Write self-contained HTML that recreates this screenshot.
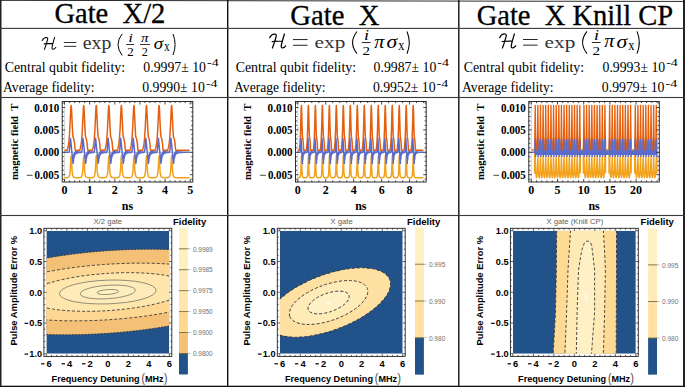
<!DOCTYPE html>
<html><head><meta charset="utf-8"><style>
html,body{margin:0;padding:0;background:#fff;}
body{width:685px;height:387px;overflow:hidden;font-family:"Liberation Sans",sans-serif;}
svg{display:block;}
</style></head><body>
<svg width="685" height="387" viewBox="0 0 685 387">
<line x1="0" y1="0.35" x2="685" y2="1.45" stroke="#2a2a2a" stroke-width="1.0"/>
<rect x="0" y="0" width="1.5" height="387" fill="#222" />
<rect x="683" y="0" width="2" height="387" fill="#222" />
<rect x="0" y="385.7" width="685" height="1.3" fill="#111" />
<rect x="227.0" y="0" width="1.4" height="387" fill="#111" />
<rect x="458.1" y="0" width="1.4" height="387" fill="#111" />
<rect x="0" y="27.849999999999998" width="685" height="1.1" fill="#3a3a3a" />
<rect x="0" y="96.95" width="685" height="1.1" fill="#3a3a3a" />
<rect x="0" y="214.95" width="685" height="1.1" fill="#3a3a3a" />
<text x="54.4" y="23.1" font-family="'Liberation Serif', serif" font-size="28.6" font-weight="normal" font-style="normal" fill="#000" text-anchor="start" textLength="111.0" lengthAdjust="spacingAndGlyphs" stroke="#000" stroke-width="0.3">Gate&#160;&#160;X/2</text>
<text x="290.3" y="25.3" font-family="'Liberation Serif', serif" font-size="28.9" font-weight="normal" font-style="normal" fill="#000" text-anchor="start" textLength="89.2" lengthAdjust="spacingAndGlyphs" stroke="#000" stroke-width="0.3">Gate&#160;&#160;X</text>
<text x="476.7" y="24.5" font-family="'Liberation Serif', serif" font-size="28.7" font-weight="normal" font-style="normal" fill="#000" text-anchor="start" textLength="196.4" lengthAdjust="spacingAndGlyphs" stroke="#000" stroke-width="0.3">Gate&#160;&#160;X Knill CP</text>
<text x="4.7" y="71.6" font-family="'Liberation Serif', serif" font-size="13.9" font-weight="normal" font-style="normal" fill="#000" text-anchor="start" textLength="120.4" lengthAdjust="spacingAndGlyphs" >Central qubit fidelity:</text>
<text x="3.0" y="91.9" font-family="'Liberation Serif', serif" font-size="13.9" font-weight="normal" font-style="normal" fill="#000" text-anchor="start" textLength="91.6" lengthAdjust="spacingAndGlyphs" >Average fidelity:</text>
<text x="235.7" y="71.6" font-family="'Liberation Serif', serif" font-size="13.9" font-weight="normal" font-style="normal" fill="#000" text-anchor="start" textLength="120.4" lengthAdjust="spacingAndGlyphs" >Central qubit fidelity:</text>
<text x="234.0" y="91.9" font-family="'Liberation Serif', serif" font-size="13.9" font-weight="normal" font-style="normal" fill="#000" text-anchor="start" textLength="91.6" lengthAdjust="spacingAndGlyphs" >Average fidelity:</text>
<text x="463.7" y="71.6" font-family="'Liberation Serif', serif" font-size="13.9" font-weight="normal" font-style="normal" fill="#000" text-anchor="start" textLength="120.4" lengthAdjust="spacingAndGlyphs" >Central qubit fidelity:</text>
<text x="462.0" y="91.9" font-family="'Liberation Serif', serif" font-size="13.9" font-weight="normal" font-style="normal" fill="#000" text-anchor="start" textLength="91.6" lengthAdjust="spacingAndGlyphs" >Average fidelity:</text>
<text x="143.3" y="71.6" font-family="'Liberation Serif', serif" font-size="13.9" font-weight="normal" font-style="normal" fill="#000" text-anchor="start" textLength="62.7" lengthAdjust="spacingAndGlyphs" >0.9997&#177; 10</text>
<text x="207.0" y="66.3" font-family="'Liberation Serif', serif" font-size="10.5" font-weight="normal" font-style="normal" fill="#000" text-anchor="start" textLength="11.6" lengthAdjust="spacingAndGlyphs" >-4</text>
<text x="142.2" y="91.9" font-family="'Liberation Serif', serif" font-size="13.9" font-weight="normal" font-style="normal" fill="#000" text-anchor="start" textLength="62.7" lengthAdjust="spacingAndGlyphs" >0.9990&#177; 10</text>
<text x="205.89999999999998" y="86.60000000000001" font-family="'Liberation Serif', serif" font-size="10.5" font-weight="normal" font-style="normal" fill="#000" text-anchor="start" textLength="11.6" lengthAdjust="spacingAndGlyphs" >-4</text>
<text x="373.6" y="71.6" font-family="'Liberation Serif', serif" font-size="13.9" font-weight="normal" font-style="normal" fill="#000" text-anchor="start" textLength="62.7" lengthAdjust="spacingAndGlyphs" >0.9987&#177; 10</text>
<text x="437.3" y="66.3" font-family="'Liberation Serif', serif" font-size="10.5" font-weight="normal" font-style="normal" fill="#000" text-anchor="start" textLength="11.6" lengthAdjust="spacingAndGlyphs" >-4</text>
<text x="372.9" y="91.9" font-family="'Liberation Serif', serif" font-size="13.9" font-weight="normal" font-style="normal" fill="#000" text-anchor="start" textLength="62.7" lengthAdjust="spacingAndGlyphs" >0.9952&#177; 10</text>
<text x="436.59999999999997" y="86.60000000000001" font-family="'Liberation Serif', serif" font-size="10.5" font-weight="normal" font-style="normal" fill="#000" text-anchor="start" textLength="11.6" lengthAdjust="spacingAndGlyphs" >-4</text>
<text x="602.5" y="71.6" font-family="'Liberation Serif', serif" font-size="13.9" font-weight="normal" font-style="normal" fill="#000" text-anchor="start" textLength="62.7" lengthAdjust="spacingAndGlyphs" >0.9993&#177; 10</text>
<text x="666.2" y="66.3" font-family="'Liberation Serif', serif" font-size="10.5" font-weight="normal" font-style="normal" fill="#000" text-anchor="start" textLength="11.6" lengthAdjust="spacingAndGlyphs" >-4</text>
<text x="601.8" y="91.9" font-family="'Liberation Serif', serif" font-size="13.9" font-weight="normal" font-style="normal" fill="#000" text-anchor="start" textLength="62.7" lengthAdjust="spacingAndGlyphs" >0.9979&#177; 10</text>
<text x="665.5" y="86.60000000000001" font-family="'Liberation Serif', serif" font-size="10.5" font-weight="normal" font-style="normal" fill="#000" text-anchor="start" textLength="11.6" lengthAdjust="spacingAndGlyphs" >-4</text>
<path d="M42.16,40.63 C43.09,38.59 45.13,37.23 46.83,37.48 C47.85,37.66 47.85,38.76 47.51,39.95 C46.66,43.18 45.64,46.41 44.45,49.30 M44.28,43.86 L52.61,43.35 M54.65,37.40 C53.63,40.80 52.61,44.20 52.02,47.09 C51.76,48.62 52.27,49.47 53.29,49.21 C54.31,48.96 55.16,48.28 55.75,47.52" fill="none" stroke="#000" stroke-width="1.06" stroke-linecap="round"/>
<rect x="63.9" y="42.0" width="12.4" height="0.8" fill="#000" />
<rect x="63.9" y="45.9" width="12.4" height="0.8" fill="#000" />
<text x="82.80" y="48.94" font-family="'Liberation Serif', serif" font-size="17.96" font-weight="normal" font-style="normal" fill="#333" textLength="28.48" lengthAdjust="spacingAndGlyphs" >exp</text>
<path d="M122.20,33.80 Q113.80,44.65 122.20,55.50" fill="none" stroke="#000" stroke-width="1.0"/>
<text x="128.30" y="41.60" font-family="'Liberation Serif', serif" font-size="13.18" font-weight="normal" font-style="italic" fill="#000" textLength="4.66" lengthAdjust="spacingAndGlyphs" >i</text>
<rect x="126.1" y="44.1" width="7.9" height="0.8" fill="#000" />
<text x="127.20" y="55.90" font-family="'Liberation Serif', serif" font-size="11.82" font-weight="normal" font-style="normal" fill="#000" textLength="6.50" lengthAdjust="spacingAndGlyphs" >2</text>
<text x="140.90" y="41.77" font-family="'Liberation Serif', serif" font-size="12.98" font-weight="normal" font-style="italic" fill="#000" textLength="7.54" lengthAdjust="spacingAndGlyphs" >π</text>
<rect x="140.0" y="44.1" width="9.9" height="0.8" fill="#000" />
<text x="141.80" y="55.70" font-family="'Liberation Serif', serif" font-size="11.52" font-weight="normal" font-style="normal" fill="#000" textLength="6.10" lengthAdjust="spacingAndGlyphs" >2</text>
<text x="153.70" y="49.34" font-family="'Liberation Serif', serif" font-size="16.38" font-weight="normal" font-style="italic" fill="#000" textLength="9.39" lengthAdjust="spacingAndGlyphs" >σ</text>
<text x="164.20" y="51.30" font-family="'Liberation Serif', serif" font-size="14.13" font-weight="normal" font-style="normal" fill="#000" textLength="5.30" lengthAdjust="spacingAndGlyphs" >x</text>
<path d="M173.00,34.00 Q177.20,44.50 173.00,55.00" fill="none" stroke="#000" stroke-width="1.0"/>
<path d="M269.70,37.80 C270.80,35.40 273.20,33.80 275.20,34.10 C276.40,34.30 276.40,35.60 276.00,37.00 C275.00,40.80 273.80,44.60 272.40,48.00 M272.20,41.60 L282.00,41.00 M284.40,34.00 C283.20,38.00 282.00,42.00 281.30,45.40 C281.00,47.20 281.60,48.20 282.80,47.90 C284.00,47.60 285.00,46.80 285.70,45.90" fill="none" stroke="#000" stroke-width="1.25" stroke-linecap="round"/>
<rect x="293.0" y="39.2" width="14.6" height="0.85" fill="#000" />
<rect x="293.0" y="44.8" width="14.6" height="0.85" fill="#000" />
<text x="314.60" y="47.93" font-family="'Liberation Serif', serif" font-size="17.08" font-weight="normal" font-style="normal" fill="#333" textLength="30.68" lengthAdjust="spacingAndGlyphs" >exp</text>
<path d="M357.00,31.50 Q348.20,42.60 357.00,53.70" fill="none" stroke="#000" stroke-width="1.05"/>
<text x="364.00" y="39.70" font-family="'Liberation Serif', serif" font-size="15.00" font-weight="normal" font-style="italic" fill="#000" textLength="5.06" lengthAdjust="spacingAndGlyphs" >i</text>
<rect x="361.8" y="42.2" width="8.8" height="0.85" fill="#000" />
<text x="362.60" y="54.60" font-family="'Liberation Serif', serif" font-size="13.18" font-weight="normal" font-style="normal" fill="#000" textLength="7.60" lengthAdjust="spacingAndGlyphs" >2</text>
<text x="374.20" y="47.51" font-family="'Liberation Serif', serif" font-size="19.36" font-weight="normal" font-style="italic" fill="#000" textLength="10.12" lengthAdjust="spacingAndGlyphs" >π</text>
<text x="386.60" y="47.92" font-family="'Liberation Serif', serif" font-size="18.10" font-weight="normal" font-style="italic" fill="#000" textLength="10.71" lengthAdjust="spacingAndGlyphs" >σ</text>
<text x="398.30" y="49.90" font-family="'Liberation Serif', serif" font-size="15.00" font-weight="normal" font-style="normal" fill="#000" textLength="6.20" lengthAdjust="spacingAndGlyphs" >x</text>
<path d="M407.00,31.50 Q411.60,42.60 407.00,53.70" fill="none" stroke="#000" stroke-width="1.05"/>
<path d="M499.70,37.70 C500.80,35.30 503.20,33.70 505.20,34.00 C506.40,34.20 506.40,35.50 506.00,36.90 C505.00,40.70 503.80,44.50 502.40,47.90 M502.20,41.50 L512.00,40.90 M514.40,33.90 C513.20,37.90 512.00,41.90 511.30,45.30 C511.00,47.10 511.60,48.10 512.80,47.80 C514.00,47.50 515.00,46.70 515.70,45.80" fill="none" stroke="#000" stroke-width="1.25" stroke-linecap="round"/>
<rect x="523.0" y="39.1" width="14.6" height="0.85" fill="#000" />
<rect x="523.0" y="44.699999999999996" width="14.6" height="0.85" fill="#000" />
<text x="544.60" y="47.83" font-family="'Liberation Serif', serif" font-size="17.08" font-weight="normal" font-style="normal" fill="#333" textLength="30.68" lengthAdjust="spacingAndGlyphs" >exp</text>
<path d="M587.00,31.40 Q578.20,42.50 587.00,53.60" fill="none" stroke="#000" stroke-width="1.05"/>
<text x="594.00" y="39.60" font-family="'Liberation Serif', serif" font-size="15.00" font-weight="normal" font-style="italic" fill="#000" textLength="5.06" lengthAdjust="spacingAndGlyphs" >i</text>
<rect x="591.8" y="42.1" width="8.8" height="0.85" fill="#000" />
<text x="592.60" y="54.50" font-family="'Liberation Serif', serif" font-size="13.18" font-weight="normal" font-style="normal" fill="#000" textLength="7.60" lengthAdjust="spacingAndGlyphs" >2</text>
<text x="604.20" y="47.41" font-family="'Liberation Serif', serif" font-size="19.36" font-weight="normal" font-style="italic" fill="#000" textLength="10.12" lengthAdjust="spacingAndGlyphs" >π</text>
<text x="616.60" y="47.82" font-family="'Liberation Serif', serif" font-size="18.10" font-weight="normal" font-style="italic" fill="#000" textLength="10.71" lengthAdjust="spacingAndGlyphs" >σ</text>
<text x="628.30" y="49.80" font-family="'Liberation Serif', serif" font-size="15.00" font-weight="normal" font-style="normal" fill="#000" textLength="6.20" lengthAdjust="spacingAndGlyphs" >x</text>
<path d="M637.00,31.40 Q641.60,42.50 637.00,53.60" fill="none" stroke="#000" stroke-width="1.05"/>
<clipPath id="bc1"><rect x="62.2" y="101.5" width="130.60000000000002" height="80.5"/></clipPath>
<line x1="62.2" y1="152.3" x2="192.8" y2="152.3" stroke="#b0b0b0" stroke-width="0.8"/>
<line x1="64.55" y1="101.5" x2="64.55" y2="182.0" stroke="#c8c8c8" stroke-width="0.8"/>
<g clip-path="url(#bc1)" fill="none" stroke-width="1.5" stroke-linejoin="round">
<path d="M64.55,150.28L67.11,150.28L67.92,147.77L68.55,144.42L69.02,140.55L69.52,134.30L70.73,109.39L70.93,106.52L71.13,105.48L71.33,106.52L71.53,109.39L72.44,129.13L72.95,136.60L73.08,137.26L73.36,137.43L73.55,137.89L74.39,142.30L75.08,149.39L75.15,149.90L75.35,150.25L79.67,150.28L80.30,148.44L80.85,145.98L81.48,141.51L82.02,135.22L82.49,127.14L83.29,109.39L83.49,106.52L83.69,105.48L83.88,106.38L84.08,109.23L84.90,127.14L85.35,134.93L85.58,137.00L85.71,137.37L85.99,137.53L86.13,137.95L86.95,142.30L87.71,149.88L87.84,150.20L88.05,150.28L92.23,150.28L92.86,148.44L93.41,145.98L93.84,143.20L94.24,139.50L94.93,129.50L95.89,108.73L96.09,106.12L96.25,105.48L96.44,106.38L96.64,109.23L97.46,127.14L97.95,135.43L98.20,137.26L98.55,137.53L98.69,137.95L99.55,142.55L100.27,149.88L100.40,150.20L100.61,150.28L104.79,150.28L105.42,148.44L105.95,146.11L106.40,143.20L106.80,139.50L107.49,129.50L108.45,108.73L108.65,106.12L108.81,105.48L109.00,106.38L109.20,109.23L110.02,127.14L110.55,135.88L110.75,137.22L110.83,137.37L111.11,137.53L111.25,137.95L112.07,142.30L112.83,149.88L112.95,150.19L113.15,150.28L117.35,150.28L117.98,148.44L118.53,145.98L118.96,143.20L119.36,139.50L120.05,129.50L121.01,108.73L121.21,106.12L121.37,105.48L121.55,106.31L121.75,108.98L122.68,129.13L123.15,136.27L123.32,137.26L123.67,137.53L123.81,137.95L124.63,142.30L125.39,149.88L125.52,150.20L125.73,150.28L129.91,150.28L130.55,148.41L131.09,145.98L131.55,142.96L131.95,139.19L132.61,129.50L133.55,109.03L133.75,106.33L133.93,105.48L134.12,106.38L134.33,109.39L135.14,127.14L135.55,134.39L135.82,137.00L135.95,137.37L136.23,137.53L136.35,137.89L137.26,142.74L137.95,149.90L138.08,150.20L138.29,150.28L142.47,150.28L143.10,148.44L143.65,145.98L144.08,143.20L144.48,139.50L145.15,129.79L146.13,108.73L146.33,106.12L146.49,105.48L146.68,106.38L146.88,109.23L147.70,127.14L148.15,134.93L148.38,137.00L148.51,137.37L148.79,137.53L148.93,137.95L149.75,142.30L150.51,149.88L150.64,150.20L150.85,150.28L155.03,150.28L155.66,148.44L156.21,145.98L156.64,143.20L157.04,139.50L157.73,129.50L158.69,108.73L158.89,106.12L159.05,105.48L159.24,106.38L159.44,109.23L160.26,127.14L160.75,135.43L161.00,137.26L161.35,137.53L161.49,137.95L162.35,142.55L163.07,149.88L163.20,150.20L163.41,150.28L167.59,150.28L168.22,148.44L168.75,146.11L169.20,143.20L169.60,139.50L170.29,129.50L171.25,108.73L171.45,106.12L171.61,105.48L171.80,106.38L172.00,109.23L172.82,127.14L173.35,135.88L173.55,137.22L173.63,137.37L173.91,137.53L174.05,137.95L174.87,142.30L175.49,148.76L175.70,150.09L175.83,150.25L176.04,150.28L189.55,150.28" stroke="#e4600f"/>
<path d="M64.55,177.84L66.75,177.72L68.02,177.42L68.42,177.20L68.82,176.83L69.15,176.32L69.42,175.64L69.83,173.84L70.15,171.05L70.93,157.42L71.13,155.88L71.35,157.68L72.04,170.12L72.54,174.42L72.95,175.96L73.36,176.73L74.05,177.33L75.01,177.64L77.42,177.84L79.07,177.74L80.10,177.58L80.72,177.36L81.20,177.03L81.58,176.55L81.88,175.93L82.35,174.05L82.69,171.31L83.47,157.80L83.69,155.88L83.95,158.28L84.55,169.50L85.00,173.84L85.35,175.48L85.78,176.52L86.35,177.16L87.23,177.56L88.33,177.75L89.98,177.84L92.45,177.63L93.14,177.42L93.64,177.13L94.04,176.70L94.38,176.10L94.86,174.35L95.25,171.31L96.03,157.80L96.25,155.88L96.45,157.42L97.15,170.04L97.55,173.79L97.95,175.61L98.27,176.40L98.82,177.10L99.51,177.48L100.61,177.72L102.47,177.83L104.89,177.65L105.63,177.45L106.18,177.14L106.60,176.70L106.94,176.10L107.42,174.35L107.81,171.31L108.59,157.80L108.81,155.88L109.01,157.42L109.62,168.71L110.02,173.14L110.55,175.74L110.97,176.63L111.59,177.25L112.41,177.58L113.65,177.76L115.10,177.84L117.15,177.70L117.98,177.52L118.60,177.24L119.08,176.81L119.46,176.17L119.96,174.42L120.35,171.49L120.66,167.14L121.15,157.73L121.37,155.88L121.57,157.42L122.38,171.31L122.78,174.42L123.32,176.27L123.74,176.90L124.29,177.33L124.97,177.58L126.01,177.75L127.66,177.84L129.65,177.71L130.72,177.46L131.44,177.03L131.92,176.39L132.26,175.52L132.55,174.28L132.81,172.44L133.16,168.28L133.73,157.42L133.93,155.88L134.15,157.68L134.63,167.07L134.95,171.46L135.34,174.42L135.82,176.12L136.16,176.73L136.64,177.20L137.19,177.48L137.95,177.67L139.53,177.81L140.97,177.81L142.48,177.66L143.45,177.39L144.08,176.95L144.58,176.17L144.95,175.05L145.23,173.52L145.65,169.31L146.27,157.80L146.49,155.88L146.69,157.42L147.50,171.31L147.90,174.42L148.35,176.06L148.65,176.63L149.06,177.10L149.61,177.43L150.30,177.63L152.78,177.84L154.53,177.73L155.64,177.53L156.42,177.14L156.97,176.51L157.38,175.52L157.75,173.81L158.21,169.31L158.83,157.80L159.05,155.88L159.25,157.42L160.06,171.31L160.46,174.42L160.94,176.12L161.28,176.73L161.62,177.10L162.15,177.42L162.79,177.61L165.34,177.84L167.89,177.61L168.84,177.24L169.46,176.62L169.94,175.52L170.29,173.96L170.75,169.54L171.39,157.80L171.61,155.88L171.81,157.42L172.35,167.67L172.72,172.31L173.15,175.04L173.50,176.12L173.91,176.82L174.35,177.22L174.94,177.50L176.75,177.79L189.55,177.84" stroke="#f2a11b"/>
<path d="M64.55,152.30L68.55,152.28L68.92,152.13L69.12,151.82L69.35,150.97L69.55,149.50L70.23,140.16L70.43,138.55L70.53,138.66L73.02,163.50L73.15,158.91L73.43,161.97L73.70,155.04L73.98,158.19L74.25,153.13L74.53,156.02L74.80,152.23L75.08,154.75L75.35,151.85L75.63,153.98L75.90,151.73L76.18,153.50L76.45,151.73L76.73,153.18L77.00,151.78L77.28,152.96L77.55,151.85L77.83,152.81L78.10,151.92L78.38,152.70L78.65,151.99L78.93,152.61L79.20,152.04L79.48,152.55L79.75,152.09L80.03,152.50L80.30,152.13L80.58,152.46L80.85,152.16L81.15,152.40L81.38,152.10L81.58,152.06L81.68,151.92L82.16,149.07L82.79,140.22L83.05,138.36L85.58,163.52L85.71,158.90L85.99,161.98L86.26,155.03L86.54,158.19L86.81,153.12L87.09,156.03L87.36,152.22L87.64,154.76L87.91,151.84L88.19,153.99L88.46,151.72L88.74,153.50L89.01,151.72L89.29,153.18L89.56,151.78L89.84,152.96L90.11,151.85L90.39,152.81L90.66,151.92L90.94,152.70L91.21,151.98L91.49,152.61L91.75,152.04L92.04,152.55L92.31,152.09L92.55,152.48L92.86,152.13L93.14,152.46L93.41,152.16L93.69,152.41L93.94,152.10L94.15,152.05L94.24,151.92L94.72,149.07L95.35,140.22L95.61,138.36L98.14,163.52L98.27,158.90L98.55,161.96L98.82,155.03L99.10,158.19L99.35,153.24L99.37,153.12L99.44,153.50L99.65,156.03L99.92,152.22L100.20,154.76L100.47,151.84L100.75,153.99L101.02,151.72L101.30,153.50L101.57,151.72L101.85,153.18L102.12,151.78L102.40,152.96L102.67,151.85L102.95,152.81L103.22,151.92L103.50,152.70L103.77,151.98L104.05,152.61L104.32,152.04L104.60,152.55L104.87,152.09L105.15,152.50L105.42,152.13L105.70,152.46L105.97,152.16L106.25,152.41L106.50,152.10L106.70,152.06L106.80,151.92L107.28,149.07L107.91,140.22L108.17,138.36L110.70,163.52L110.83,158.90L111.11,161.98L111.38,155.03L111.66,158.19L111.93,153.12L112.21,156.03L112.48,152.22L112.75,154.76L113.03,151.84L113.31,153.99L113.58,151.72L113.86,153.50L114.13,151.72L114.41,153.18L114.68,151.78L114.95,152.96L115.23,151.85L115.51,152.81L115.78,151.92L116.06,152.70L116.33,151.98L116.61,152.61L116.88,152.04L117.16,152.55L117.43,152.09L117.71,152.50L117.98,152.13L118.26,152.46L118.53,152.16L118.81,152.41L119.06,152.10L119.26,152.06L119.36,151.92L119.84,149.07L120.47,140.22L120.73,138.36L123.26,163.52L123.39,158.90L123.67,161.98L123.94,155.03L124.22,158.19L124.49,153.12L124.77,156.03L125.04,152.22L125.32,154.76L125.59,151.84L125.87,153.99L126.14,151.72L126.42,153.50L126.69,151.72L126.97,153.18L127.24,151.78L127.52,152.96L127.79,151.85L128.07,152.81L128.34,151.92L128.62,152.70L128.89,151.98L129.17,152.61L129.44,152.04L129.72,152.55L129.99,152.09L130.27,152.50L130.54,152.13L130.82,152.46L131.09,152.16L131.37,152.41L131.62,152.10L131.82,152.06L131.92,151.92L132.40,149.07L133.03,140.22L133.29,138.36L135.82,163.52L135.95,158.90L136.23,161.98L136.50,155.03L136.78,158.19L137.05,153.12L137.33,156.03L137.60,152.22L137.88,154.76L138.15,151.84L138.43,153.99L138.70,151.72L138.98,153.50L139.25,151.72L139.53,153.18L139.80,151.78L140.08,152.96L140.35,151.85L140.63,152.81L140.90,151.92L141.18,152.70L141.45,151.98L141.73,152.61L142.00,152.04L142.28,152.55L142.55,152.09L142.83,152.50L143.10,152.13L143.38,152.46L143.65,152.16L143.95,152.40L144.18,152.10L144.38,152.06L144.48,151.92L144.96,149.07L145.59,140.22L145.85,138.36L148.38,163.52L148.51,158.90L148.79,161.98L149.06,155.03L149.34,158.19L149.61,153.12L149.89,156.03L150.16,152.22L150.44,154.76L150.71,151.84L150.99,153.99L151.26,151.72L151.54,153.50L151.81,151.72L152.09,153.18L152.36,151.78L152.64,152.96L152.91,151.85L153.19,152.81L153.46,151.92L153.74,152.70L154.01,151.98L154.29,152.61L154.55,152.04L154.84,152.55L155.11,152.09L155.35,152.48L155.66,152.13L155.94,152.46L156.21,152.16L156.49,152.41L156.74,152.10L156.95,152.05L157.04,151.92L157.52,149.07L158.15,140.22L158.41,138.36L160.94,163.52L161.07,158.90L161.35,161.96L161.62,155.03L161.90,158.19L162.15,153.24L162.17,153.12L162.24,153.50L162.45,156.03L162.72,152.22L163.00,154.76L163.27,151.84L163.55,153.99L163.82,151.72L164.10,153.50L164.37,151.72L164.65,153.18L164.92,151.78L165.20,152.96L165.47,151.85L165.75,152.81L166.02,151.92L166.30,152.70L166.57,151.98L166.85,152.61L167.12,152.04L167.40,152.55L167.67,152.09L167.95,152.50L168.22,152.13L168.50,152.46L168.77,152.16L169.05,152.41L169.30,152.10L169.50,152.06L169.60,151.92L170.08,149.07L170.71,140.22L170.97,138.36L173.50,163.52L173.63,158.90L173.91,161.98L174.18,155.03L174.46,158.19L174.73,153.12L175.01,156.03L175.28,152.22L175.55,154.76L175.83,151.84L176.11,153.99L176.38,151.72L176.66,153.50L176.93,151.72L177.21,153.18L177.48,151.78L177.75,152.96L178.03,151.85L178.31,152.81L178.58,151.92L178.86,152.70L179.13,151.98L179.41,152.61L179.68,152.04L179.96,152.55L180.23,152.09L180.51,152.50L180.78,152.13L181.06,152.46L181.33,152.16L181.61,152.43L181.88,152.19L182.16,152.40L182.43,152.21L182.71,152.38L182.98,152.23L183.26,152.36L183.53,152.24L183.81,152.35L184.08,152.25L184.36,152.34L184.63,152.26L184.95,152.33L189.55,152.30" stroke="#5b6bca"/>
</g>
<rect x="62.2" y="101.5" width="130.60000000000002" height="80.5" fill="none" stroke="#1a1a1a" stroke-width="0.9"/>
<path d="M64.55,182.0v-3.0M64.55,101.5v3.0M69.57,182.0v-1.6M69.57,101.5v1.6M74.60,182.0v-1.6M74.60,101.5v1.6M79.62,182.0v-1.6M79.62,101.5v1.6M84.65,182.0v-1.6M84.65,101.5v1.6M89.67,182.0v-3.0M89.67,101.5v3.0M94.69,182.0v-1.6M94.69,101.5v1.6M99.72,182.0v-1.6M99.72,101.5v1.6M104.74,182.0v-1.6M104.74,101.5v1.6M109.77,182.0v-1.6M109.77,101.5v1.6M114.79,182.0v-3.0M114.79,101.5v3.0M119.81,182.0v-1.6M119.81,101.5v1.6M124.84,182.0v-1.6M124.84,101.5v1.6M129.86,182.0v-1.6M129.86,101.5v1.6M134.89,182.0v-1.6M134.89,101.5v1.6M139.91,182.0v-3.0M139.91,101.5v3.0M144.93,182.0v-1.6M144.93,101.5v1.6M149.96,182.0v-1.6M149.96,101.5v1.6M154.98,182.0v-1.6M154.98,101.5v1.6M160.01,182.0v-1.6M160.01,101.5v1.6M165.03,182.0v-3.0M165.03,101.5v3.0M170.05,182.0v-1.6M170.05,101.5v1.6M175.08,182.0v-1.6M175.08,101.5v1.6M180.10,182.0v-1.6M180.10,101.5v1.6M185.13,182.0v-1.6M185.13,101.5v1.6M190.15,182.0v-3.0M190.15,101.5v3.0M62.2,179.18h1.6M192.8,179.18h-1.6M62.2,174.70h3.0M192.8,174.70h-3.0M62.2,170.22h1.6M192.8,170.22h-1.6M62.2,165.74h1.6M192.8,165.74h-1.6M62.2,161.26h1.6M192.8,161.26h-1.6M62.2,156.78h1.6M192.8,156.78h-1.6M62.2,152.30h3.0M192.8,152.30h-3.0M62.2,147.82h1.6M192.8,147.82h-1.6M62.2,143.34h1.6M192.8,143.34h-1.6M62.2,138.86h1.6M192.8,138.86h-1.6M62.2,134.38h1.6M192.8,134.38h-1.6M62.2,129.90h3.0M192.8,129.90h-3.0M62.2,125.42h1.6M192.8,125.42h-1.6M62.2,120.94h1.6M192.8,120.94h-1.6M62.2,116.46h1.6M192.8,116.46h-1.6M62.2,111.98h1.6M192.8,111.98h-1.6M62.2,107.50h3.0M192.8,107.50h-3.0M62.2,103.02h1.6M192.8,103.02h-1.6" stroke="#1a1a1a" stroke-width="0.8" fill="none"/>
<text x="59.20" y="111.60" font-family="'Liberation Serif', serif" font-size="12" font-weight="bold" font-style="normal" fill="#000" text-anchor="end" textLength="24.9" lengthAdjust="spacingAndGlyphs" >0.010</text>
<text x="59.20" y="134.00" font-family="'Liberation Serif', serif" font-size="12" font-weight="bold" font-style="normal" fill="#000" text-anchor="end" textLength="24.9" lengthAdjust="spacingAndGlyphs" >0.005</text>
<text x="59.20" y="156.40" font-family="'Liberation Serif', serif" font-size="12" font-weight="bold" font-style="normal" fill="#000" text-anchor="end" textLength="24.9" lengthAdjust="spacingAndGlyphs" >0.000</text>
<text x="59.20" y="178.80" font-family="'Liberation Serif', serif" font-size="12" font-weight="bold" font-style="normal" fill="#000" text-anchor="end" textLength="24.6" lengthAdjust="spacingAndGlyphs" >0.005</text>
<rect x="26.80" y="174.80" width="5.8" height="0.9" fill="#333"/>
<text x="64.55" y="193.60" font-family="'Liberation Serif', serif" font-size="12" font-weight="bold" font-style="normal" fill="#000" text-anchor="middle" >0</text>
<text x="89.67" y="193.60" font-family="'Liberation Serif', serif" font-size="12" font-weight="bold" font-style="normal" fill="#000" text-anchor="middle" >1</text>
<text x="114.79" y="193.60" font-family="'Liberation Serif', serif" font-size="12" font-weight="bold" font-style="normal" fill="#000" text-anchor="middle" >2</text>
<text x="139.91" y="193.60" font-family="'Liberation Serif', serif" font-size="12" font-weight="bold" font-style="normal" fill="#000" text-anchor="middle" >3</text>
<text x="165.03" y="193.60" font-family="'Liberation Serif', serif" font-size="12" font-weight="bold" font-style="normal" fill="#000" text-anchor="middle" >4</text>
<text x="190.15" y="193.60" font-family="'Liberation Serif', serif" font-size="12" font-weight="bold" font-style="normal" fill="#000" text-anchor="middle" >5</text>
<text x="127.50" y="209.80" font-family="'Liberation Serif', serif" font-size="12" font-weight="bold" font-style="normal" fill="#000" text-anchor="middle" >ns</text>
<text x="17.50" y="180.00" font-family="'Liberation Serif', serif" font-size="10.6" font-weight="bold" font-style="normal" fill="#000" text-anchor="start" textLength="76.4" lengthAdjust="spacingAndGlyphs" transform="rotate(-90 17.50 180.00)">magnetic field&#160;&#160;T</text>
<clipPath id="bc2"><rect x="295.5" y="101.5" width="130.7" height="80.5"/></clipPath>
<line x1="295.5" y1="152.3" x2="426.2" y2="152.3" stroke="#b0b0b0" stroke-width="0.8"/>
<line x1="297.8" y1="101.5" x2="297.8" y2="182.0" stroke="#c8c8c8" stroke-width="0.8"/>
<g clip-path="url(#bc2)" fill="none" stroke-width="1.5" stroke-linejoin="round">
<path d="M297.80,150.28L299.17,150.28L299.62,147.77L300.00,144.05L300.51,134.30L301.18,109.39L301.41,105.48L301.63,109.39L302.13,129.13L302.40,136.35L302.52,137.36L302.66,137.46L302.73,137.74L303.20,142.11L303.62,149.68L303.69,150.14L303.80,150.28L306.16,150.28L306.51,148.42L306.80,146.12L307.16,141.51L307.44,135.77L308.17,109.39L308.39,105.48L308.60,108.87L309.12,129.13L309.40,136.53L309.51,137.36L309.65,137.46L309.72,137.74L310.20,142.24L310.61,149.68L310.68,150.14L310.80,150.28L313.14,150.28L313.50,148.42L313.80,146.00L314.26,139.50L314.65,129.13L315.16,109.39L315.38,105.48L315.60,109.26L316.11,129.13L316.40,136.70L316.50,137.36L316.63,137.46L316.70,137.74L317.20,142.37L317.60,149.71L317.67,150.14L317.80,150.28L320.13,150.28L320.47,148.54L320.76,146.26L321.25,139.50L321.64,129.13L322.14,109.39L322.37,105.48L322.59,109.39L323.09,129.13L323.40,136.84L323.48,137.36L323.62,137.46L323.69,137.74L324.20,142.51L324.60,149.86L324.65,150.14L324.79,150.28L327.12,150.28L327.45,148.54L327.75,146.26L328.24,139.50L328.60,130.10L329.13,109.39L329.36,105.48L329.58,109.39L330.08,129.13L330.40,136.97L330.47,137.36L330.60,137.44L330.68,137.74L331.16,142.21L331.60,149.96L331.78,150.28L334.11,150.28L334.44,148.54L334.73,146.26L335.23,139.50L335.60,129.68L336.12,109.39L336.34,105.48L336.57,109.39L337.20,133.22L337.39,137.00L337.67,137.74L338.20,142.81L338.56,149.68L338.63,150.14L338.77,150.28L341.09,150.28L341.43,148.54L341.72,146.26L342.21,139.50L342.60,129.26L343.11,109.39L343.33,105.48L343.55,109.39L344.20,133.57L344.38,137.00L344.65,137.74L345.20,142.97L345.55,149.68L345.62,150.14L345.75,150.28L348.08,150.28L348.42,148.54L348.71,146.26L349.20,139.50L349.59,129.13L350.09,109.39L350.32,105.48L350.54,109.39L351.20,133.91L351.37,137.00L351.64,137.74L352.19,143.02L352.53,149.68L352.60,150.14L352.74,150.28L355.07,150.28L355.42,148.42L355.74,145.84L356.20,139.25L356.58,129.13L357.08,109.39L357.31,105.48L357.53,109.39L358.20,134.24L358.35,137.00L358.63,137.74L359.11,142.21L359.52,149.68L359.59,150.14L359.73,150.28L362.06,150.28L362.41,148.42L362.73,145.84L363.20,139.00L363.57,129.13L364.07,109.39L364.29,105.48L364.52,109.39L365.20,134.55L365.34,137.00L365.62,137.74L366.10,142.21L366.51,149.68L366.58,150.14L366.72,150.28L369.04,150.28L369.38,148.54L369.67,146.26L370.16,139.50L370.55,129.13L371.06,109.39L371.28,105.48L371.50,109.39L372.20,134.85L372.33,137.00L372.60,137.74L373.08,142.21L373.50,149.68L373.57,150.14L373.70,150.28L376.03,150.28L376.37,148.54L376.66,146.26L377.15,139.50L377.54,129.13L378.04,109.39L378.27,105.48L378.49,109.39L379.20,135.14L379.32,137.00L379.60,137.79L380.07,142.21L380.48,149.68L380.55,150.14L380.69,150.28L383.02,150.28L383.35,148.54L383.65,146.26L384.14,139.50L384.53,129.13L385.03,109.39L385.26,105.48L385.48,109.39L386.20,135.42L386.30,137.00L386.60,137.88L387.06,142.21L387.47,149.68L387.54,150.14L387.68,150.28L390.01,150.28L390.34,148.54L390.63,146.26L391.13,139.50L391.52,129.13L392.02,109.39L392.24,105.48L392.47,109.39L393.20,135.68L393.29,137.00L393.60,137.97L394.05,142.21L394.46,149.68L394.53,150.14L394.67,150.28L396.99,150.28L397.33,148.54L397.62,146.26L398.11,139.50L398.50,129.13L399.01,109.39L399.23,105.48L399.45,109.39L400.20,135.92L400.28,137.00L400.35,137.36L400.48,137.46L400.60,138.07L401.03,142.21L401.45,149.68L401.52,150.14L401.65,150.28L403.98,150.28L404.32,148.54L404.61,146.26L405.10,139.50L405.49,129.13L406.00,109.22L406.22,105.48L406.44,109.39L407.20,136.14L407.33,137.36L407.47,137.46L407.54,137.74L408.02,142.21L408.43,149.68L408.60,150.27L410.97,150.28L411.30,148.54L411.60,146.24L412.09,139.50L412.48,129.13L413.00,108.83L413.21,105.48L413.43,109.39L413.93,129.13L414.20,136.35L414.32,137.36L414.46,137.46L414.53,137.74L415.01,142.21L415.49,150.14L415.70,150.28L423.40,150.28" stroke="#e4600f"/>
<path d="M297.80,177.84L299.06,177.70L299.78,177.33L300.20,176.64L300.51,175.31L300.73,173.14L300.90,170.12L301.41,155.88L301.91,170.12L302.20,174.53L302.40,175.87L302.73,176.91L303.20,177.47L303.97,177.74L305.27,177.81L306.00,177.71L306.49,177.53L306.80,177.30L307.05,176.95L307.40,175.85L307.67,173.84L307.83,171.31L308.39,155.88L308.90,170.12L309.20,174.64L309.44,176.12L309.72,176.91L310.13,177.42L310.82,177.71L311.98,177.83L312.87,177.73L313.43,177.56L314.00,177.02L314.37,175.93L314.60,174.40L314.82,171.31L315.38,155.88L315.88,170.12L316.16,174.42L316.40,175.99L316.70,176.91L317.12,177.42L317.73,177.70L318.90,177.83L319.80,177.74L320.41,177.56L320.75,177.33L321.00,176.99L321.36,175.93L321.60,174.28L321.81,171.31L322.37,155.88L322.87,170.12L323.15,174.42L323.40,176.05L323.62,176.76L324.00,177.34L324.60,177.67L325.89,177.83L326.78,177.74L327.34,177.59L327.68,177.38L327.96,177.04L328.35,175.93L328.60,174.15L328.80,171.24L329.36,155.88L329.86,170.12L330.14,174.42L330.40,176.10L330.61,176.76L330.95,177.30L331.50,177.64L332.88,177.83L333.77,177.74L334.33,177.59L334.67,177.38L334.95,177.04L335.34,175.93L335.60,174.02L335.78,171.31L336.34,155.88L336.85,170.12L337.07,173.84L337.20,175.04L337.53,176.59L337.87,177.23L338.35,177.58L338.97,177.75L339.87,177.83L340.76,177.74L341.31,177.59L341.65,177.38L341.93,177.04L342.32,175.93L342.60,173.88L342.77,171.31L343.33,155.88L343.80,169.30L344.06,173.84L344.45,176.37L344.72,177.03L345.13,177.47L345.75,177.71L346.72,177.83L348.14,177.65L348.53,177.46L348.85,177.15L349.26,176.16L349.54,174.42L349.76,171.31L350.32,155.88L350.99,173.14L351.37,176.12L351.57,176.76L351.85,177.23L352.33,177.58L353.00,177.76L353.84,177.83L354.94,177.70L355.42,177.52L355.77,177.24L356.04,176.79L356.24,176.17L356.52,174.42L356.75,171.31L357.31,155.88L357.86,171.31L358.09,174.42L358.40,176.30L358.63,176.91L358.90,177.30L359.32,177.58L359.93,177.75L360.80,177.84L361.93,177.70L362.50,177.46L362.90,177.04L363.17,176.41L363.34,175.64L363.65,172.79L364.29,155.88L364.85,171.31L365.08,174.42L365.34,176.12L365.55,176.76L365.80,177.20L366.10,177.47L366.51,177.66L367.40,177.81L368.23,177.81L369.05,177.66L369.60,177.38L369.95,176.93L370.22,176.16L370.60,173.27L371.28,155.88L371.84,171.31L372.06,174.42L372.33,176.12L372.74,177.14L373.02,177.42L373.43,177.64L374.80,177.83L375.77,177.73L376.37,177.53L376.81,177.13L377.14,176.41L377.54,173.84L377.80,169.26L378.27,155.88L378.83,171.31L379.05,174.42L379.32,176.12L379.73,177.14L380.35,177.61L381.79,177.83L383.20,177.60L383.72,177.24L384.08,176.55L384.33,175.47L384.53,173.84L384.75,170.12L385.26,155.88L385.81,171.31L386.04,174.42L386.30,176.12L386.72,177.14L387.33,177.61L388.71,177.83L390.06,177.65L390.60,177.35L390.98,176.79L391.25,175.85L391.46,174.42L391.74,170.12L392.24,155.88L392.80,171.31L393.03,174.42L393.29,176.12L393.63,177.03L393.91,177.37L394.25,177.58L394.80,177.74L395.70,177.83L396.93,177.68L397.55,177.38L397.94,176.83L398.22,175.93L398.45,174.42L398.73,170.12L399.23,155.88L399.79,171.31L399.96,173.84L400.20,175.75L400.55,176.91L400.80,177.27L401.10,177.52L401.65,177.71L402.48,177.82L403.81,177.71L404.47,177.43L404.88,176.93L405.20,175.99L405.43,174.42L405.71,170.12L406.22,155.88L406.78,171.31L406.94,173.84L407.20,175.81L407.54,176.91L407.80,177.29L408.09,177.52L408.60,177.71L409.33,177.81L410.70,177.73L411.42,177.46L411.86,176.95L412.15,176.16L412.40,174.63L412.70,170.12L413.21,155.88L413.82,172.31L414.00,174.53L414.20,175.87L414.46,176.76L414.67,177.14L415.01,177.47L415.42,177.66L416.04,177.78L423.40,177.84" stroke="#f2a11b"/>
<path d="M297.80,152.30L299.95,152.29L300.18,152.13L300.29,151.82L300.51,149.74L300.90,140.16L301.00,138.66L301.01,138.55L301.07,138.66L302.45,163.50L302.59,157.91L302.66,157.73L302.80,159.58L302.87,159.45L303.14,153.13L303.40,155.48L303.69,151.90L303.97,153.87L304.24,151.72L304.52,153.18L304.79,151.81L305.07,152.84L305.34,151.93L305.62,152.64L305.88,152.04L306.17,152.53L306.40,152.14L306.72,152.45L306.94,152.18L307.16,152.17L307.28,151.92L307.54,148.92L308.02,138.41L309.44,163.52L309.58,157.92L309.65,157.72L309.78,159.57L309.85,159.45L310.13,153.13L310.40,155.45L310.68,151.90L310.95,153.87L311.23,151.72L311.50,153.18L311.78,151.81L312.05,152.84L312.33,151.93L312.60,152.64L312.87,152.04L313.15,152.53L313.40,152.13L313.70,152.45L313.93,152.18L314.15,152.17L314.26,151.92L314.53,148.92L315.01,138.41L316.43,163.52L316.57,157.92L316.60,157.62L316.63,157.72L316.77,159.57L316.80,159.67L316.84,159.45L317.12,153.13L317.39,155.44L317.67,151.90L317.94,153.87L318.22,151.72L318.49,153.18L318.77,151.81L319.04,152.84L319.32,151.93L319.59,152.64L319.85,152.04L320.14,152.53L320.40,152.12L320.69,152.45L320.91,152.18L321.14,152.17L321.25,151.92L321.52,148.92L322.00,138.40L323.42,163.52L323.55,157.92L323.62,157.72L323.76,159.57L323.80,159.66L323.83,159.45L324.10,153.13L324.38,155.44L324.65,151.90L324.93,153.87L325.20,151.72L325.48,153.18L325.75,151.81L326.03,152.84L326.30,151.93L326.58,152.64L326.84,152.04L327.13,152.53L327.40,152.12L327.68,152.45L327.90,152.18L328.13,152.17L328.24,151.92L328.50,148.92L328.85,140.20L329.00,138.37L330.40,163.52L330.54,157.92L330.60,157.66L330.80,159.60L331.09,153.13L331.37,155.44L331.64,151.90L331.92,153.87L332.19,151.72L332.47,153.18L332.74,151.81L333.02,152.84L333.29,151.93L333.57,152.64L333.83,152.04L334.12,152.53L334.39,152.12L334.67,152.45L334.89,152.18L335.11,152.17L335.23,151.92L335.49,148.92L335.97,138.41L337.39,163.52L337.53,157.92L337.60,157.72L337.73,159.57L337.80,159.49L338.08,153.13L338.35,155.44L338.63,151.90L338.90,153.87L339.18,151.72L339.45,153.18L339.73,151.81L340.00,152.84L340.28,151.93L340.55,152.64L340.82,152.04L341.10,152.53L341.37,152.12L341.65,152.45L341.88,152.18L342.10,152.17L342.21,151.92L342.48,148.92L342.96,138.41L344.38,163.52L344.52,157.92L344.58,157.72L344.72,159.57L344.79,159.45L345.07,153.13L345.34,155.44L345.62,151.90L345.89,153.87L346.17,151.72L346.44,153.18L346.72,151.81L346.99,152.84L347.27,151.93L347.54,152.64L347.80,152.04L348.09,152.53L348.36,152.12L348.64,152.45L348.86,152.18L349.09,152.17L349.20,151.92L349.47,148.92L349.95,138.41L351.37,163.52L351.50,157.92L351.57,157.72L351.71,159.57L351.78,159.45L352.05,153.13L352.33,155.44L352.60,151.90L352.88,153.87L353.15,151.72L353.43,153.18L353.70,151.81L353.98,152.84L354.25,151.93L354.53,152.64L354.79,152.04L355.08,152.53L355.35,152.12L355.63,152.45L355.85,152.18L356.08,152.17L356.19,151.92L356.45,148.92L356.93,138.41L358.35,163.52L358.49,157.92L358.56,157.72L358.70,159.57L358.77,159.45L359.04,153.13L359.32,155.44L359.59,151.90L359.87,153.87L360.14,151.72L360.40,153.18L360.69,151.81L360.97,152.84L361.24,151.93L361.52,152.64L361.78,152.04L362.07,152.53L362.34,152.12L362.62,152.45L362.84,152.18L363.06,152.17L363.18,151.92L363.44,148.92L363.92,138.41L365.34,163.52L365.48,157.92L365.55,157.72L365.68,159.57L365.75,159.45L366.03,153.13L366.30,155.44L366.58,151.90L366.85,153.87L367.13,151.72L367.40,153.18L367.68,151.81L367.95,152.84L368.23,151.93L368.50,152.64L368.77,152.04L369.05,152.53L369.32,152.12L369.60,152.45L369.83,152.18L370.05,152.17L370.16,151.92L370.43,148.92L370.91,138.41L372.33,163.52L372.47,157.92L372.53,157.72L372.67,159.57L372.74,159.45L373.02,153.13L373.29,155.44L373.57,151.90L373.84,153.87L374.12,151.72L374.39,153.18L374.67,151.81L374.94,152.84L375.20,151.94L375.49,152.64L375.75,152.04L376.04,152.53L376.31,152.12L376.60,152.45L376.81,152.18L377.04,152.17L377.15,151.92L377.40,149.21L377.90,138.41L379.32,163.52L379.45,157.92L379.52,157.72L379.66,159.57L379.73,159.45L380.00,153.13L380.28,155.44L380.55,151.90L380.83,153.87L381.10,151.72L381.38,153.18L381.65,151.81L381.93,152.84L382.20,151.93L382.48,152.64L382.74,152.04L383.03,152.53L383.30,152.12L383.58,152.45L383.80,152.18L384.03,152.17L384.14,151.92L384.40,148.99L384.88,138.41L386.30,163.52L386.44,157.92L386.51,157.72L386.65,159.57L386.72,159.45L387.00,153.10L387.27,155.44L387.54,151.90L387.80,153.88L388.09,151.72L388.37,153.18L388.64,151.81L388.92,152.84L389.19,151.93L389.47,152.64L389.73,152.04L390.02,152.53L390.29,152.12L390.57,152.45L390.80,152.17L391.01,152.17L391.13,151.92L391.39,148.92L391.87,138.41L393.29,163.52L393.43,157.92L393.50,157.72L393.63,159.57L393.70,159.45L393.98,153.13L394.25,155.44L394.53,151.90L394.80,153.87L395.08,151.72L395.35,153.18L395.63,151.81L395.90,152.84L396.18,151.93L396.45,152.64L396.72,152.04L397.00,152.53L397.27,152.12L397.55,152.45L397.80,152.17L398.00,152.17L398.11,151.92L398.38,148.92L398.86,138.41L400.28,163.52L400.42,157.92L400.48,157.72L400.62,159.57L400.69,159.45L400.97,153.13L401.24,155.44L401.52,151.90L401.79,153.87L402.07,151.72L402.34,153.18L402.60,151.81L402.89,152.84L403.17,151.93L403.44,152.64L403.70,152.04L403.99,152.53L404.26,152.12L404.54,152.45L404.80,152.16L405.00,152.16L405.10,151.92L405.37,148.92L405.85,138.41L407.27,163.52L407.40,157.92L407.47,157.72L407.61,159.57L407.68,159.45L407.95,153.13L408.20,155.48L408.50,151.90L408.78,153.87L409.05,151.72L409.33,153.18L409.60,151.81L409.88,152.84L410.15,151.93L410.43,152.64L410.69,152.04L410.98,152.53L411.25,152.12L411.53,152.45L411.75,152.18L412.00,152.15L412.09,151.92L412.35,148.92L412.83,138.41L414.25,163.52L414.40,157.80L414.46,157.72L414.60,159.58L414.67,159.45L414.94,153.13L415.20,155.48L415.49,151.90L415.77,153.87L416.04,151.72L416.32,153.18L416.59,151.81L416.87,152.84L417.14,151.93L417.42,152.64L417.69,152.04L417.97,152.53L418.24,152.12L418.52,152.45L418.79,152.18L419.07,152.40L419.34,152.22L419.62,152.37L419.89,152.24L420.17,152.35L420.44,152.26L423.40,152.30" stroke="#5b6bca"/>
</g>
<rect x="295.5" y="101.5" width="130.7" height="80.5" fill="none" stroke="#1a1a1a" stroke-width="0.9"/>
<path d="M297.80,182.0v-3.0M297.80,101.5v3.0M304.79,182.0v-1.6M304.79,101.5v1.6M311.78,182.0v-1.6M311.78,101.5v1.6M318.76,182.0v-1.6M318.76,101.5v1.6M325.75,182.0v-3.0M325.75,101.5v3.0M332.74,182.0v-1.6M332.74,101.5v1.6M339.73,182.0v-1.6M339.73,101.5v1.6M346.71,182.0v-1.6M346.71,101.5v1.6M353.70,182.0v-3.0M353.70,101.5v3.0M360.69,182.0v-1.6M360.69,101.5v1.6M367.68,182.0v-1.6M367.68,101.5v1.6M374.66,182.0v-1.6M374.66,101.5v1.6M381.65,182.0v-3.0M381.65,101.5v3.0M388.64,182.0v-1.6M388.64,101.5v1.6M395.62,182.0v-1.6M395.62,101.5v1.6M402.61,182.0v-1.6M402.61,101.5v1.6M409.60,182.0v-3.0M409.60,101.5v3.0M416.59,182.0v-1.6M416.59,101.5v1.6M423.57,182.0v-1.6M423.57,101.5v1.6M295.5,179.18h1.6M426.2,179.18h-1.6M295.5,174.70h3.0M426.2,174.70h-3.0M295.5,170.22h1.6M426.2,170.22h-1.6M295.5,165.74h1.6M426.2,165.74h-1.6M295.5,161.26h1.6M426.2,161.26h-1.6M295.5,156.78h1.6M426.2,156.78h-1.6M295.5,152.30h3.0M426.2,152.30h-3.0M295.5,147.82h1.6M426.2,147.82h-1.6M295.5,143.34h1.6M426.2,143.34h-1.6M295.5,138.86h1.6M426.2,138.86h-1.6M295.5,134.38h1.6M426.2,134.38h-1.6M295.5,129.90h3.0M426.2,129.90h-3.0M295.5,125.42h1.6M426.2,125.42h-1.6M295.5,120.94h1.6M426.2,120.94h-1.6M295.5,116.46h1.6M426.2,116.46h-1.6M295.5,111.98h1.6M426.2,111.98h-1.6M295.5,107.50h3.0M426.2,107.50h-3.0M295.5,103.02h1.6M426.2,103.02h-1.6" stroke="#1a1a1a" stroke-width="0.8" fill="none"/>
<text x="292.50" y="111.60" font-family="'Liberation Serif', serif" font-size="12" font-weight="bold" font-style="normal" fill="#000" text-anchor="end" textLength="24.9" lengthAdjust="spacingAndGlyphs" >0.010</text>
<text x="292.50" y="134.00" font-family="'Liberation Serif', serif" font-size="12" font-weight="bold" font-style="normal" fill="#000" text-anchor="end" textLength="24.9" lengthAdjust="spacingAndGlyphs" >0.005</text>
<text x="292.50" y="156.40" font-family="'Liberation Serif', serif" font-size="12" font-weight="bold" font-style="normal" fill="#000" text-anchor="end" textLength="24.9" lengthAdjust="spacingAndGlyphs" >0.000</text>
<text x="292.50" y="178.80" font-family="'Liberation Serif', serif" font-size="12" font-weight="bold" font-style="normal" fill="#000" text-anchor="end" textLength="24.6" lengthAdjust="spacingAndGlyphs" >0.005</text>
<rect x="260.10" y="174.80" width="5.8" height="0.9" fill="#333"/>
<text x="297.80" y="193.60" font-family="'Liberation Serif', serif" font-size="12" font-weight="bold" font-style="normal" fill="#000" text-anchor="middle" >0</text>
<text x="325.75" y="193.60" font-family="'Liberation Serif', serif" font-size="12" font-weight="bold" font-style="normal" fill="#000" text-anchor="middle" >2</text>
<text x="353.70" y="193.60" font-family="'Liberation Serif', serif" font-size="12" font-weight="bold" font-style="normal" fill="#000" text-anchor="middle" >4</text>
<text x="381.65" y="193.60" font-family="'Liberation Serif', serif" font-size="12" font-weight="bold" font-style="normal" fill="#000" text-anchor="middle" >6</text>
<text x="409.60" y="193.60" font-family="'Liberation Serif', serif" font-size="12" font-weight="bold" font-style="normal" fill="#000" text-anchor="middle" >8</text>
<text x="360.85" y="209.80" font-family="'Liberation Serif', serif" font-size="12" font-weight="bold" font-style="normal" fill="#000" text-anchor="middle" >ns</text>
<text x="250.80" y="180.00" font-family="'Liberation Serif', serif" font-size="10.6" font-weight="bold" font-style="normal" fill="#000" text-anchor="start" textLength="76.4" lengthAdjust="spacingAndGlyphs" transform="rotate(-90 250.80 180.00)">magnetic field&#160;&#160;T</text>
<clipPath id="bc3"><rect x="528.8" y="101.5" width="130.5" height="80.5"/></clipPath>
<line x1="528.8" y1="152.3" x2="659.3" y2="152.3" stroke="#b0b0b0" stroke-width="0.8"/>
<line x1="531.3" y1="101.5" x2="531.3" y2="182.0" stroke="#c8c8c8" stroke-width="0.8"/>
<g clip-path="url(#bc3)" fill="none" stroke-width="1.35" stroke-linejoin="round">
<path d="M531.30,149.88L534.58,149.88L534.87,135.77L535.23,105.48L535.62,137.00L535.76,138.48L536.04,148.59L536.10,150.22L536.17,150.28L537.01,150.28L537.26,145.84L537.50,135.34L537.85,105.48L538.24,137.00L538.52,141.99L538.70,150.07L538.79,150.28L539.63,150.28L539.88,145.84L540.11,135.77L540.47,105.48L540.86,137.00L541.14,141.99L541.30,149.64L541.41,150.28L542.25,150.28L542.50,145.84L542.73,135.77L543.09,105.48L543.48,137.00L543.62,138.48L543.90,148.81L543.96,150.24L544.03,150.28L544.87,150.28L545.12,145.84L545.35,135.77L545.71,105.48L546.10,136.93L546.24,138.48L546.52,148.59L546.58,150.24L546.65,150.28L547.49,150.28L547.74,145.84L547.97,135.77L548.33,105.48L548.70,136.22L548.86,138.48L549.14,148.59L549.20,150.24L549.27,150.28L550.11,150.28L550.36,145.84L550.59,135.77L550.95,105.48L551.30,135.18L551.62,141.99L551.76,148.59L551.82,150.24L551.89,150.28L552.73,150.28L552.98,145.84L553.21,135.77L553.57,105.48L553.96,137.00L554.10,138.46L554.38,148.59L554.50,150.28L555.35,150.28L555.60,145.84L555.83,135.77L556.19,105.48L556.58,137.00L556.70,138.00L556.86,141.99L557.10,150.28L557.97,150.28L558.22,145.84L558.45,135.77L558.81,105.48L559.20,137.00L559.30,137.65L559.48,141.99L559.70,150.27L560.59,150.28L560.84,145.84L561.07,135.77L561.43,105.48L561.82,137.00L561.96,138.48L562.24,148.59L562.30,150.22L562.37,150.28L563.21,150.28L563.46,145.84L563.70,135.34L564.05,105.48L564.44,137.00L564.72,141.99L564.90,150.07L564.99,150.28L565.83,150.28L566.08,145.84L566.31,135.77L566.67,105.48L567.06,137.00L567.34,141.99L567.50,149.64L567.61,150.28L568.45,150.28L568.70,145.84L568.93,135.77L569.29,105.48L569.68,137.00L569.82,138.48L570.10,148.81L570.16,150.24L570.23,150.28L571.07,150.28L571.32,145.84L571.55,135.77L571.91,105.48L572.30,136.93L572.44,138.48L572.72,148.59L572.78,150.24L572.85,150.28L573.69,150.28L573.94,145.84L574.17,135.77L574.53,105.48L574.90,136.22L575.06,138.48L575.34,148.59L575.40,150.24L575.47,150.28L576.31,150.28L576.56,145.84L576.79,135.77L577.15,105.48L577.50,135.18L577.82,141.99L577.96,148.59L578.02,150.24L578.09,150.28L578.93,150.28L579.18,145.84L579.41,135.77L579.77,105.48L580.10,133.86L580.16,137.00L580.37,140.34L580.44,149.88L583.31,149.88L583.61,135.77L583.96,105.48L584.30,134.41L584.63,141.99L584.77,148.59L584.90,150.28L585.74,150.28L586.00,145.84L586.23,135.77L586.58,105.48L586.97,137.00L587.11,138.48L587.50,150.28L588.36,150.28L588.62,145.84L588.85,135.77L589.20,105.48L589.59,137.00L589.70,137.77L589.87,141.99L590.10,150.28L590.98,150.28L591.24,145.84L591.47,135.77L591.82,105.48L592.21,137.00L592.50,142.25L592.70,150.25L593.60,150.28L593.86,145.84L594.09,135.77L594.44,105.48L594.83,137.00L595.11,141.99L595.32,150.24L596.22,150.28L596.45,146.38L596.71,135.77L597.06,105.48L597.45,137.00L597.73,141.99L597.94,150.24L598.84,150.28L599.07,146.38L599.33,135.77L599.68,105.48L600.07,137.00L600.35,141.99L600.56,150.24L601.46,150.28L601.70,146.24L601.95,135.77L602.30,105.48L602.69,137.00L602.97,141.99L603.18,150.24L604.08,150.28L604.31,146.38L604.57,135.77L604.92,105.48L605.22,130.98L605.30,136.55L605.52,140.34L605.59,149.88L608.99,149.88L609.28,135.77L609.64,105.48L610.03,137.00L610.31,141.99L610.51,150.24L611.42,150.28L611.65,146.38L611.90,135.77L612.26,105.48L612.65,137.00L612.93,141.99L613.13,150.24L614.04,150.28L614.27,146.38L614.52,135.77L614.88,105.48L615.27,137.00L615.55,141.99L615.75,150.24L616.66,150.28L616.90,146.14L617.14,135.77L617.50,105.48L617.89,137.00L618.17,141.99L618.37,150.24L619.28,150.28L619.51,146.38L619.76,135.77L620.12,105.48L620.50,136.69L620.79,141.99L620.99,150.24L621.90,150.28L622.13,146.38L622.38,135.77L622.74,105.48L623.10,135.84L623.41,141.99L623.61,150.24L624.52,150.28L624.75,146.38L625.00,135.77L625.36,105.48L625.70,134.68L626.03,141.99L626.23,150.24L627.14,150.28L627.37,146.38L627.62,135.77L627.98,105.48L628.37,137.00L628.65,141.99L628.85,150.24L629.76,150.28L629.99,146.38L630.24,135.77L630.60,105.48L630.90,131.70L630.99,137.00L631.20,140.34L631.27,149.88L634.66,149.88L634.96,135.77L635.31,105.48L635.70,136.82L635.98,141.99L636.19,150.24L637.10,150.28L637.33,146.38L637.58,135.77L637.93,105.48L638.30,136.04L638.60,141.99L638.81,150.24L639.72,150.28L639.95,146.38L640.20,135.77L640.55,105.48L640.95,137.00L641.22,141.99L641.43,150.24L641.63,150.28L642.34,150.28L642.61,145.26L642.84,134.30L643.17,105.48L643.57,137.00L643.84,141.99L644.05,150.24L644.96,150.28L645.19,146.38L645.44,135.77L645.79,105.48L646.19,137.00L646.30,137.92L646.46,141.99L646.60,148.59L646.67,150.24L647.58,150.28L647.83,145.84L647.99,139.50L648.41,105.48L648.81,137.00L648.90,137.60L649.10,142.48L649.22,148.59L649.30,150.26L650.20,150.28L650.45,145.84L650.61,139.50L651.03,105.48L651.43,137.00L651.70,141.99L651.90,150.20L651.98,150.28L652.82,150.28L653.07,145.84L653.23,139.50L653.65,105.48L654.05,137.00L654.32,141.99L654.50,150.02L654.60,150.28L655.44,150.28L655.69,145.84L655.85,139.50L656.27,105.48L656.67,137.00L656.90,140.99L656.94,149.88L657.01,149.88" stroke="#e4600f"/>
<path d="M531.30,152.30L533.90,152.30L534.30,150.84L534.58,147.98L534.60,173.19L535.23,155.88L535.83,172.67L536.10,175.99L536.52,177.78L536.72,177.32L536.93,176.32L537.22,173.19L537.85,155.88L538.45,172.67L538.72,175.99L539.14,177.78L539.34,177.32L539.55,176.32L539.84,173.19L540.47,155.88L541.10,173.21L541.34,175.99L541.76,177.78L541.96,177.32L542.17,176.32L542.46,173.19L543.09,155.88L543.70,172.86L543.96,175.99L544.38,177.78L544.58,177.32L544.79,176.32L545.08,173.19L545.71,155.88L546.31,172.67L546.58,175.99L547.00,177.78L547.20,177.32L547.41,176.32L547.70,173.21L548.33,155.88L548.93,172.67L549.20,175.99L549.62,177.78L549.82,177.32L550.03,176.32L550.32,173.19L550.95,155.88L551.55,172.67L551.82,175.99L552.24,177.78L552.44,177.32L552.65,176.32L552.94,173.19L553.57,155.88L554.17,172.67L554.44,175.99L554.86,177.78L555.06,177.32L555.27,176.32L555.56,173.19L556.19,155.88L556.79,172.67L557.06,175.99L557.27,177.15L557.50,177.84L557.90,176.25L558.18,173.19L558.81,155.88L559.41,172.67L559.68,175.99L560.10,177.79L560.30,177.32L560.51,176.32L560.80,173.19L561.43,155.88L562.03,172.67L562.30,175.99L562.72,177.78L562.92,177.32L563.13,176.32L563.42,173.19L564.05,155.88L564.65,172.67L564.92,175.99L565.34,177.78L565.54,177.32L565.75,176.32L566.04,173.19L566.67,155.88L567.30,173.21L567.54,175.99L567.96,177.78L568.16,177.32L568.37,176.32L568.66,173.19L569.29,155.88L569.90,172.86L570.16,175.99L570.58,177.78L570.78,177.32L570.99,176.32L571.28,173.19L571.91,155.88L572.50,172.50L572.72,175.41L573.06,177.40L573.20,177.78L573.27,177.73L573.48,177.01L573.86,173.83L574.53,155.88L574.99,169.56L575.27,174.69L575.50,176.62L575.82,177.78L576.16,176.72L576.42,174.66L576.61,171.60L577.15,155.88L577.82,173.80L578.10,176.50L578.30,177.40L578.44,177.78L578.50,177.74L578.89,176.04L579.16,172.83L579.77,155.88L580.37,172.67L580.44,148.26L580.70,150.84L581.06,152.25L582.50,152.30L582.70,152.19L582.98,151.16L583.31,147.98L583.33,173.19L583.96,155.88L584.56,172.67L584.84,175.99L585.25,177.78L585.45,177.32L585.66,176.32L585.95,173.19L586.58,155.88L587.18,172.67L587.46,175.99L587.87,177.78L588.07,177.32L588.28,176.32L588.57,173.19L589.20,155.88L589.80,172.67L590.08,175.99L590.28,177.15L590.50,177.81L590.70,177.30L590.90,176.32L591.19,173.19L591.82,155.88L592.42,172.67L592.70,176.02L593.11,177.78L593.31,177.32L593.52,176.32L593.81,173.19L594.44,155.88L595.04,172.67L595.32,175.99L595.73,177.78L595.93,177.32L596.14,176.32L596.43,173.19L597.06,155.88L597.66,172.67L597.90,175.70L598.21,177.40L598.35,177.78L598.42,177.73L598.63,177.01L599.01,173.83L599.68,155.88L600.14,169.56L600.42,174.69L600.62,176.46L600.97,177.78L601.31,176.72L601.57,174.66L601.76,171.60L602.30,155.88L602.90,172.67L603.18,175.99L603.59,177.78L603.79,177.32L604.00,176.32L604.29,173.19L604.92,155.88L605.52,172.67L605.59,148.26L605.87,150.92L606.21,152.25L608.30,152.30L608.50,151.83L608.70,150.89L608.99,147.98L609.01,173.19L609.64,155.88L610.24,172.67L610.51,175.99L610.92,177.78L611.13,177.32L611.34,176.32L611.63,173.19L612.26,155.88L612.86,172.67L613.13,175.99L613.54,177.78L613.75,177.32L613.96,176.32L614.25,173.19L614.88,155.88L615.50,173.07L615.75,175.99L616.16,177.78L616.37,177.32L616.58,176.32L616.87,173.19L617.50,155.88L618.10,172.72L618.37,175.99L618.78,177.78L618.99,177.32L619.20,176.32L619.49,173.19L620.12,155.88L620.70,172.35L620.92,175.41L621.27,177.40L621.40,177.78L621.47,177.73L621.69,177.01L622.07,173.83L622.74,155.88L623.20,169.56L623.47,174.69L623.70,176.57L624.02,177.78L624.37,176.72L624.62,174.66L624.81,171.60L625.36,155.88L626.03,173.80L626.30,176.46L626.51,177.40L626.70,177.76L627.08,176.19L627.35,173.19L627.98,155.88L628.58,172.67L628.85,175.99L629.06,177.15L629.30,177.81L629.70,176.19L629.97,173.19L630.60,155.88L631.20,172.67L631.27,148.26L631.54,150.92L631.90,152.28L633.90,152.30L634.10,152.06L634.35,151.05L634.66,147.98L634.69,173.19L635.31,155.88L635.91,172.67L636.19,175.99L636.60,177.78L636.81,177.32L637.01,176.32L637.31,173.19L637.93,155.88L638.53,172.67L638.81,175.99L639.22,177.78L639.43,177.32L639.63,176.32L639.93,173.19L640.55,155.88L641.15,172.67L641.43,175.99L641.84,177.78L642.05,177.32L642.25,176.32L642.55,173.19L643.17,155.88L643.77,172.67L644.05,175.99L644.46,177.78L644.67,177.32L644.87,176.32L645.17,173.19L645.79,155.88L646.39,172.67L646.67,175.99L647.08,177.78L647.29,177.32L647.49,176.32L647.79,173.19L648.41,155.88L649.01,172.67L649.22,175.41L649.56,177.40L649.70,177.78L649.77,177.73L649.99,177.01L650.36,173.83L651.03,155.88L651.50,169.68L651.77,174.69L651.98,176.46L652.32,177.78L652.66,176.72L652.90,174.89L653.10,171.79L653.65,155.88L654.25,172.67L654.53,175.99L654.94,177.78L655.15,177.32L655.35,176.32L655.65,173.19L656.27,155.88L656.90,173.14L656.94,148.26L657.01,149.16" stroke="#f2a11b"/>
<rect x="534.76" y="150.4" width="121.78" height="4.599999999999994" fill="#5b6bca" stroke="none"/>
<path d="M531.30,152.30L534.62,152.30L534.77,152.14L534.89,149.90L535.10,139.34L535.62,156.33L535.76,151.45L536.04,154.36L536.30,151.42L536.59,152.89L536.82,151.98L537.12,152.50L537.41,151.91L537.70,139.50L538.24,156.36L538.38,151.45L538.66,154.36L538.90,151.45L539.21,152.89L539.44,151.98L539.74,152.50L540.03,151.91L540.32,139.50L540.86,156.36L541.00,151.45L541.28,154.36L541.55,151.43L541.83,152.89L542.06,151.98L542.36,152.50L542.65,151.91L542.94,139.50L543.48,156.36L543.62,151.45L543.90,154.36L544.17,151.43L544.45,152.89L544.68,151.98L544.98,152.50L545.27,151.91L545.56,139.50L546.10,156.36L546.24,151.45L546.50,154.42L546.79,151.43L547.07,152.89L547.30,151.98L547.62,152.50L547.90,151.84L548.18,139.50L548.72,156.36L548.86,151.45L549.10,154.42L549.41,151.43L549.69,152.89L549.92,151.98L550.22,152.50L550.51,151.91L550.80,139.50L551.34,156.36L551.48,151.45L551.76,154.36L552.03,151.43L552.30,152.90L552.54,151.98L552.84,152.50L553.13,151.91L553.42,139.50L553.96,156.36L554.10,151.45L554.38,154.36L554.65,151.43L554.90,152.90L555.16,151.98L555.46,152.50L555.75,151.91L556.04,139.50L556.58,156.36L556.72,151.45L557.00,154.36L557.27,151.43L557.55,152.89L557.78,151.98L558.08,152.50L558.37,151.91L558.66,139.50L559.20,156.36L559.34,151.45L559.62,154.36L559.89,151.43L560.17,152.89L560.40,151.98L560.70,152.50L560.99,151.91L561.30,139.40L561.82,156.36L561.96,151.45L562.24,154.36L562.50,151.42L562.79,152.89L563.02,151.98L563.32,152.50L563.61,151.91L563.90,139.50L564.44,156.36L564.58,151.45L564.86,154.36L565.10,151.45L565.41,152.89L565.64,151.98L565.94,152.50L566.23,151.91L566.52,139.50L567.06,156.36L567.20,151.45L567.48,154.36L567.75,151.43L568.03,152.89L568.26,151.98L568.56,152.50L568.85,151.91L569.14,139.50L569.68,156.36L569.82,151.45L570.10,154.36L570.37,151.43L570.65,152.89L570.88,151.98L571.18,152.50L571.47,151.91L571.76,139.50L572.30,156.36L572.44,151.45L572.70,154.42L572.99,151.43L573.27,152.89L573.50,151.98L573.82,152.50L574.10,151.84L574.38,139.50L574.92,156.36L575.06,151.45L575.30,154.42L575.61,151.43L575.89,152.89L576.12,151.98L576.42,152.50L576.71,151.91L577.00,139.50L577.54,156.36L577.68,151.45L577.96,154.36L578.23,151.43L578.50,152.90L578.74,151.98L579.04,152.50L579.33,151.91L579.62,139.50L580.16,156.36L580.30,151.45L580.58,154.36L580.85,151.43L581.10,152.90L581.40,151.97L581.68,152.50L581.90,152.19L582.23,152.37L582.50,152.26L583.38,152.30L583.50,152.14L583.63,149.90L583.82,139.44L584.35,156.33L584.50,151.42L584.77,154.36L585.04,151.43L585.30,152.90L585.55,151.98L585.85,152.50L586.14,151.91L586.44,139.50L586.97,156.36L587.11,151.45L587.39,154.36L587.66,151.43L587.90,152.88L588.17,151.98L588.47,152.50L588.76,151.91L589.06,139.50L589.59,156.36L589.73,151.45L590.01,154.36L590.28,151.43L590.56,152.89L590.79,151.98L591.10,152.50L591.38,151.91L591.68,139.50L592.21,156.36L592.35,151.45L592.63,154.36L592.90,151.43L593.18,152.89L593.41,151.98L593.71,152.50L594.00,151.91L594.30,139.44L594.83,156.36L594.97,151.45L595.25,154.36L595.50,151.43L595.80,152.89L596.03,151.98L596.33,152.50L596.62,151.91L596.92,139.50L597.45,156.36L597.59,151.45L597.87,154.36L598.10,151.50L598.42,152.89L598.65,151.98L598.95,152.50L599.24,151.91L599.54,139.50L600.07,156.36L600.21,151.45L600.49,154.36L600.76,151.43L601.04,152.89L601.27,151.98L601.57,152.50L601.86,151.91L602.16,139.50L602.69,156.36L602.83,151.45L603.10,154.39L603.38,151.43L603.66,152.89L603.89,151.98L604.21,152.50L604.42,152.15L604.50,151.77L604.78,139.50L605.31,156.36L605.45,151.45L605.70,154.43L606.00,151.43L606.28,152.89L606.55,151.97L606.83,152.50L607.10,152.18L607.38,152.37L607.65,152.26L609.05,152.30L609.18,152.14L609.30,149.90L609.50,139.33L610.03,156.33L610.17,151.45L610.44,154.36L610.70,151.43L610.99,152.89L611.23,151.98L611.52,152.50L611.82,151.91L612.11,139.50L612.65,156.36L612.79,151.45L613.06,154.36L613.30,151.48L613.61,152.89L613.85,151.98L614.14,152.50L614.44,151.91L614.73,139.50L615.27,156.36L615.41,151.45L615.68,154.36L615.96,151.43L616.23,152.89L616.47,151.98L616.76,152.50L617.06,151.91L617.35,139.50L617.89,156.36L618.03,151.45L618.30,154.37L618.58,151.43L618.85,152.89L619.09,151.98L619.38,152.50L619.68,151.91L619.97,139.50L620.51,156.36L620.65,151.45L620.90,154.43L621.20,151.43L621.47,152.89L621.71,151.98L622.02,152.50L622.30,151.90L622.59,139.50L623.13,156.36L623.27,151.45L623.50,154.39L623.82,151.43L624.09,152.89L624.33,151.98L624.62,152.50L624.92,151.91L625.21,139.50L625.75,156.36L625.90,151.41L626.16,154.36L626.44,151.43L626.70,152.90L626.95,151.98L627.24,152.50L627.54,151.91L627.83,139.50L628.37,156.36L628.51,151.45L628.78,154.36L629.06,151.43L629.30,152.89L629.57,151.98L629.86,152.50L630.16,151.91L630.45,139.50L630.99,156.36L631.13,151.45L631.40,154.36L631.68,151.43L631.95,152.89L632.23,151.97L632.50,152.50L632.78,152.18L633.05,152.37L633.30,152.26L634.73,152.30L634.85,152.14L634.98,149.90L635.17,139.44L635.71,156.33L635.84,151.45L636.10,154.42L636.39,151.43L636.67,152.89L636.91,151.98L637.22,152.50L637.50,151.87L637.79,139.50L638.33,156.36L638.46,151.45L638.70,154.41L639.01,151.43L639.29,152.89L639.53,151.98L639.82,152.50L640.11,151.91L640.41,139.50L640.95,156.36L641.08,151.45L641.36,154.36L641.63,151.43L641.90,152.90L642.15,151.98L642.44,152.50L642.73,151.91L643.03,139.50L643.57,156.36L643.70,151.45L643.98,154.36L644.25,151.43L644.50,152.89L644.77,151.98L645.06,152.50L645.35,151.91L645.65,139.50L646.19,156.36L646.32,151.45L646.60,154.36L646.87,151.43L647.15,152.89L647.39,151.98L647.68,152.50L647.97,151.91L648.27,139.50L648.81,156.36L648.94,151.45L649.22,154.36L649.49,151.43L649.77,152.89L650.01,151.98L650.30,152.50L650.59,151.91L650.90,139.38L651.43,156.36L651.56,151.45L651.84,154.36L652.10,151.42L652.39,152.89L652.63,151.98L652.92,152.50L653.21,151.91L653.51,139.50L654.05,156.36L654.18,151.45L654.46,154.36L654.70,151.47L655.01,152.89L655.25,151.98L655.54,152.50L655.83,151.91L656.13,139.50L656.67,156.36L656.80,151.45L657.01,154.23" stroke="#5b6bca"/>
</g>
<rect x="528.8" y="101.5" width="130.5" height="80.5" fill="none" stroke="#1a1a1a" stroke-width="0.9"/>
<path d="M531.30,182.0v-3.0M531.30,101.5v3.0M536.54,182.0v-1.6M536.54,101.5v1.6M541.78,182.0v-1.6M541.78,101.5v1.6M547.02,182.0v-1.6M547.02,101.5v1.6M552.26,182.0v-1.6M552.26,101.5v1.6M557.50,182.0v-3.0M557.50,101.5v3.0M562.74,182.0v-1.6M562.74,101.5v1.6M567.98,182.0v-1.6M567.98,101.5v1.6M573.22,182.0v-1.6M573.22,101.5v1.6M578.46,182.0v-1.6M578.46,101.5v1.6M583.70,182.0v-3.0M583.70,101.5v3.0M588.94,182.0v-1.6M588.94,101.5v1.6M594.18,182.0v-1.6M594.18,101.5v1.6M599.42,182.0v-1.6M599.42,101.5v1.6M604.66,182.0v-1.6M604.66,101.5v1.6M609.90,182.0v-3.0M609.90,101.5v3.0M615.14,182.0v-1.6M615.14,101.5v1.6M620.38,182.0v-1.6M620.38,101.5v1.6M625.62,182.0v-1.6M625.62,101.5v1.6M630.86,182.0v-1.6M630.86,101.5v1.6M636.10,182.0v-3.0M636.10,101.5v3.0M641.34,182.0v-1.6M641.34,101.5v1.6M646.58,182.0v-1.6M646.58,101.5v1.6M651.82,182.0v-1.6M651.82,101.5v1.6M657.06,182.0v-1.6M657.06,101.5v1.6M528.8,179.18h1.6M659.3,179.18h-1.6M528.8,174.70h3.0M659.3,174.70h-3.0M528.8,170.22h1.6M659.3,170.22h-1.6M528.8,165.74h1.6M659.3,165.74h-1.6M528.8,161.26h1.6M659.3,161.26h-1.6M528.8,156.78h1.6M659.3,156.78h-1.6M528.8,152.30h3.0M659.3,152.30h-3.0M528.8,147.82h1.6M659.3,147.82h-1.6M528.8,143.34h1.6M659.3,143.34h-1.6M528.8,138.86h1.6M659.3,138.86h-1.6M528.8,134.38h1.6M659.3,134.38h-1.6M528.8,129.90h3.0M659.3,129.90h-3.0M528.8,125.42h1.6M659.3,125.42h-1.6M528.8,120.94h1.6M659.3,120.94h-1.6M528.8,116.46h1.6M659.3,116.46h-1.6M528.8,111.98h1.6M659.3,111.98h-1.6M528.8,107.50h3.0M659.3,107.50h-3.0M528.8,103.02h1.6M659.3,103.02h-1.6" stroke="#1a1a1a" stroke-width="0.8" fill="none"/>
<text x="525.80" y="111.60" font-family="'Liberation Serif', serif" font-size="12" font-weight="bold" font-style="normal" fill="#000" text-anchor="end" textLength="24.9" lengthAdjust="spacingAndGlyphs" >0.010</text>
<text x="525.80" y="134.00" font-family="'Liberation Serif', serif" font-size="12" font-weight="bold" font-style="normal" fill="#000" text-anchor="end" textLength="24.9" lengthAdjust="spacingAndGlyphs" >0.005</text>
<text x="525.80" y="156.40" font-family="'Liberation Serif', serif" font-size="12" font-weight="bold" font-style="normal" fill="#000" text-anchor="end" textLength="24.9" lengthAdjust="spacingAndGlyphs" >0.000</text>
<text x="525.80" y="178.80" font-family="'Liberation Serif', serif" font-size="12" font-weight="bold" font-style="normal" fill="#000" text-anchor="end" textLength="24.6" lengthAdjust="spacingAndGlyphs" >0.005</text>
<rect x="493.40" y="174.80" width="5.8" height="0.9" fill="#333"/>
<text x="531.30" y="193.60" font-family="'Liberation Serif', serif" font-size="12" font-weight="bold" font-style="normal" fill="#000" text-anchor="middle" >0</text>
<text x="557.50" y="193.60" font-family="'Liberation Serif', serif" font-size="12" font-weight="bold" font-style="normal" fill="#000" text-anchor="middle" >5</text>
<text x="583.70" y="193.60" font-family="'Liberation Serif', serif" font-size="12" font-weight="bold" font-style="normal" fill="#000" text-anchor="middle" >10</text>
<text x="609.90" y="193.60" font-family="'Liberation Serif', serif" font-size="12" font-weight="bold" font-style="normal" fill="#000" text-anchor="middle" >15</text>
<text x="636.10" y="193.60" font-family="'Liberation Serif', serif" font-size="12" font-weight="bold" font-style="normal" fill="#000" text-anchor="middle" >20</text>
<text x="594.05" y="209.80" font-family="'Liberation Serif', serif" font-size="12" font-weight="bold" font-style="normal" fill="#000" text-anchor="middle" >ns</text>
<text x="484.10" y="180.00" font-family="'Liberation Serif', serif" font-size="10.6" font-weight="bold" font-style="normal" fill="#000" text-anchor="start" textLength="76.4" lengthAdjust="spacingAndGlyphs" transform="rotate(-90 484.10 180.00)">magnetic field&#160;&#160;T</text>
<clipPath id="cc0"><rect x="46.40" y="230.8" width="122.90" height="122.90"/></clipPath>
<g clip-path="url(#cc0)">
<rect x="46.40" y="230.8" width="122.90" height="122.90" fill="#22528a"/>
<ellipse cx="107.80" cy="292.00" rx="160.09" ry="41.21" transform="rotate(175.760 107.80 292.00)" fill="#f3c075" stroke="#3a3a3a" stroke-width="0.9" stroke-dasharray="1.8 1.4"/>
<ellipse cx="107.80" cy="292.00" rx="121.69" ry="27.73" transform="rotate(176.140 107.80 292.00)" fill="#fed892" stroke="#3a3a3a" stroke-width="0.9" stroke-dasharray="3.0 2.0"/>
<ellipse cx="107.80" cy="292.00" rx="80.32" ry="18.59" transform="rotate(176.140 107.80 292.00)" fill="#fee6ad" stroke="#3a3a3a" stroke-width="0.9" stroke-dasharray="3.0 2.0"/>
<ellipse cx="107.80" cy="292.00" rx="48.40" ry="11.85" transform="rotate(178.000 107.80 292.00)" fill="#feebb9" stroke="#6a6a58" stroke-width="0.7"/>
<ellipse cx="107.80" cy="292.00" rx="27.65" ry="6.69" transform="rotate(176.200 107.80 292.00)" fill="#feefbf" stroke="#6a6a58" stroke-width="0.7"/>
<ellipse cx="107.80" cy="292.00" rx="10.80" ry="2.40" transform="rotate(176.000 107.80 292.00)" fill="#fef3c3" stroke="#6a6a58" stroke-width="0.7"/>
</g>
<rect x="43.90" y="228.3" width="127.90" height="128.10" fill="none" stroke="#222" stroke-width="0.9"/>
<path d="M46.40,356.4v-2.6M46.40,228.3v2.6M51.52,356.4v-1.5M51.52,228.3v1.5M56.64,356.4v-1.5M56.64,228.3v1.5M61.76,356.4v-1.5M61.76,228.3v1.5M66.88,356.4v-2.6M66.88,228.3v2.6M72.00,356.4v-1.5M72.00,228.3v1.5M77.12,356.4v-1.5M77.12,228.3v1.5M82.25,356.4v-1.5M82.25,228.3v1.5M87.37,356.4v-2.6M87.37,228.3v2.6M92.49,356.4v-1.5M92.49,228.3v1.5M97.61,356.4v-1.5M97.61,228.3v1.5M102.73,356.4v-1.5M102.73,228.3v1.5M107.85,356.4v-2.6M107.85,228.3v2.6M112.97,356.4v-1.5M112.97,228.3v1.5M118.09,356.4v-1.5M118.09,228.3v1.5M123.21,356.4v-1.5M123.21,228.3v1.5M128.33,356.4v-2.6M128.33,228.3v2.6M133.45,356.4v-1.5M133.45,228.3v1.5M138.58,356.4v-1.5M138.58,228.3v1.5M143.70,356.4v-1.5M143.70,228.3v1.5M148.82,356.4v-2.6M148.82,228.3v2.6M153.94,356.4v-1.5M153.94,228.3v1.5M159.06,356.4v-1.5M159.06,228.3v1.5M164.18,356.4v-1.5M164.18,228.3v1.5M169.30,356.4v-2.6M169.30,228.3v2.6M43.90,353.70h2.6M171.80,353.70h-2.6M43.90,347.56h1.4M171.80,347.56h-1.4M43.90,341.41h1.4M171.80,341.41h-1.4M43.90,335.26h1.4M171.80,335.26h-1.4M43.90,329.12h1.4M171.80,329.12h-1.4M43.90,322.98h2.6M171.80,322.98h-2.6M43.90,316.83h1.4M171.80,316.83h-1.4M43.90,310.69h1.4M171.80,310.69h-1.4M43.90,304.54h1.4M171.80,304.54h-1.4M43.90,298.39h1.4M171.80,298.39h-1.4M43.90,292.25h2.6M171.80,292.25h-2.6M43.90,286.11h1.4M171.80,286.11h-1.4M43.90,279.96h1.4M171.80,279.96h-1.4M43.90,273.81h1.4M171.80,273.81h-1.4M43.90,267.67h1.4M171.80,267.67h-1.4M43.90,261.52h2.6M171.80,261.52h-2.6M43.90,255.38h1.4M171.80,255.38h-1.4M43.90,249.24h1.4M171.80,249.24h-1.4M43.90,243.09h1.4M171.80,243.09h-1.4M43.90,236.95h1.4M171.80,236.95h-1.4M43.90,230.80h2.6M171.80,230.80h-2.6" stroke="#222" stroke-width="0.7" fill="none"/>
<text x="42.10" y="234.10" font-family="'Liberation Sans', sans-serif" font-size="9.2" font-weight="bold" font-style="normal" fill="#000" text-anchor="end" >1.0</text>
<text x="42.10" y="264.82" font-family="'Liberation Sans', sans-serif" font-size="9.2" font-weight="bold" font-style="normal" fill="#000" text-anchor="end" >0.5</text>
<text x="42.10" y="295.55" font-family="'Liberation Sans', sans-serif" font-size="9.2" font-weight="bold" font-style="normal" fill="#000" text-anchor="end" >0.0</text>
<text x="42.10" y="326.28" font-family="'Liberation Sans', sans-serif" font-size="9.2" font-weight="bold" font-style="normal" fill="#000" text-anchor="end" >0.5</text>
<rect x="24.60" y="322.78" width="3.6" height="1.2" fill="#000"/>
<text x="42.10" y="357.00" font-family="'Liberation Sans', sans-serif" font-size="9.2" font-weight="bold" font-style="normal" fill="#000" text-anchor="end" >1.0</text>
<rect x="24.60" y="353.50" width="3.6" height="1.2" fill="#000"/>
<text x="49.20" y="366.80" font-family="'Liberation Sans', sans-serif" font-size="9.4" font-weight="bold" font-style="normal" fill="#000" text-anchor="middle" >6</text>
<rect x="41.10" y="363.20" width="3.4" height="1.2" fill="#000"/>
<text x="69.68" y="366.80" font-family="'Liberation Sans', sans-serif" font-size="9.4" font-weight="bold" font-style="normal" fill="#000" text-anchor="middle" >4</text>
<rect x="61.58" y="363.20" width="3.4" height="1.2" fill="#000"/>
<text x="90.17" y="366.80" font-family="'Liberation Sans', sans-serif" font-size="9.4" font-weight="bold" font-style="normal" fill="#000" text-anchor="middle" >2</text>
<rect x="82.07" y="363.20" width="3.4" height="1.2" fill="#000"/>
<text x="107.85" y="366.80" font-family="'Liberation Sans', sans-serif" font-size="9.4" font-weight="bold" font-style="normal" fill="#000" text-anchor="middle" >0</text>
<text x="128.33" y="366.80" font-family="'Liberation Sans', sans-serif" font-size="9.4" font-weight="bold" font-style="normal" fill="#000" text-anchor="middle" >2</text>
<text x="148.82" y="366.80" font-family="'Liberation Sans', sans-serif" font-size="9.4" font-weight="bold" font-style="normal" fill="#000" text-anchor="middle" >4</text>
<text x="169.30" y="366.80" font-family="'Liberation Sans', sans-serif" font-size="9.4" font-weight="bold" font-style="normal" fill="#000" text-anchor="middle" >6</text>
<text x="51.60" y="382.00" font-family="'Liberation Sans', sans-serif" font-size="9.3" font-weight="bold" font-style="normal" fill="#000" text-anchor="start" textLength="88.0" lengthAdjust="spacingAndGlyphs" >Frequency Detuning</text>
<text x="141.40" y="382.30" font-family="'Liberation Sans', sans-serif" font-size="12.0" font-weight="normal" font-style="normal" fill="#444" text-anchor="start" textLength="3.4" lengthAdjust="spacingAndGlyphs" >(</text>
<text x="145.00" y="382.00" font-family="'Liberation Sans', sans-serif" font-size="9.3" font-weight="bold" font-style="normal" fill="#000" text-anchor="start" textLength="18.6" lengthAdjust="spacingAndGlyphs" >MHz</text>
<text x="164.00" y="382.30" font-family="'Liberation Sans', sans-serif" font-size="12.0" font-weight="normal" font-style="normal" fill="#444" text-anchor="start" textLength="3.4" lengthAdjust="spacingAndGlyphs" >)</text>
<text x="16.60" y="345.40" font-family="'Liberation Sans', sans-serif" font-size="9.4" font-weight="bold" font-style="normal" fill="#000" text-anchor="start" textLength="109.4" lengthAdjust="spacingAndGlyphs" transform="rotate(-90 16.60 345.40)">Pulse Amplitude Error %</text>
<text x="107.80" y="223.80" font-family="'Liberation Sans', sans-serif" font-size="7.7" font-weight="normal" font-style="normal" fill="#606060" text-anchor="middle" >X/2 gate</text>
<rect x="179.00" y="227.90" width="8.9" height="20.98" fill="#fef3c3"/>
<rect x="179.00" y="248.83" width="8.9" height="20.98" fill="#feefbf"/>
<rect x="179.00" y="269.76" width="8.9" height="20.98" fill="#feebb9"/>
<rect x="179.00" y="290.69" width="8.9" height="20.98" fill="#fee6ad"/>
<rect x="179.00" y="311.61" width="8.9" height="20.98" fill="#fed892"/>
<rect x="179.00" y="332.54" width="8.9" height="20.98" fill="#f3c075"/>
<rect x="179.00" y="353.47" width="8.9" height="20.98" fill="#22528a"/>
<rect x="179.00" y="248.38" width="8.9" height="0.9" fill="#7a6a40"/>
<rect x="187.90" y="248.48" width="2.5" height="0.7" fill="#999"/>
<text x="192.90" y="251.53" font-family="'Liberation Sans', sans-serif" font-size="7.5" font-weight="normal" font-style="normal" fill="#707070" text-anchor="start" textLength="19.8" lengthAdjust="spacingAndGlyphs" >0.9989</text>
<rect x="179.00" y="269.31" width="8.9" height="0.9" fill="#7a6a40"/>
<rect x="187.90" y="269.41" width="2.5" height="0.7" fill="#999"/>
<text x="192.90" y="272.46" font-family="'Liberation Sans', sans-serif" font-size="7.5" font-weight="normal" font-style="normal" fill="#707070" text-anchor="start" textLength="19.8" lengthAdjust="spacingAndGlyphs" >0.9985</text>
<rect x="179.00" y="290.24" width="8.9" height="0.9" fill="#7a6a40"/>
<rect x="187.90" y="290.34" width="2.5" height="0.7" fill="#999"/>
<text x="192.90" y="293.39" font-family="'Liberation Sans', sans-serif" font-size="7.5" font-weight="normal" font-style="normal" fill="#707070" text-anchor="start" textLength="19.8" lengthAdjust="spacingAndGlyphs" >0.9975</text>
<rect x="179.00" y="311.16" width="8.9" height="0.9" fill="#7a6a40"/>
<rect x="187.90" y="311.26" width="2.5" height="0.7" fill="#999"/>
<text x="192.90" y="314.31" font-family="'Liberation Sans', sans-serif" font-size="7.5" font-weight="normal" font-style="normal" fill="#707070" text-anchor="start" textLength="19.8" lengthAdjust="spacingAndGlyphs" >0.9950</text>
<rect x="179.00" y="332.09" width="8.9" height="0.9" fill="#7a6a40"/>
<rect x="187.90" y="332.19" width="2.5" height="0.7" fill="#999"/>
<text x="192.90" y="335.24" font-family="'Liberation Sans', sans-serif" font-size="7.5" font-weight="normal" font-style="normal" fill="#707070" text-anchor="start" textLength="19.8" lengthAdjust="spacingAndGlyphs" >0.9900</text>
<rect x="179.00" y="353.02" width="8.9" height="0.9" fill="#7a6a40"/>
<rect x="187.90" y="353.12" width="2.5" height="0.7" fill="#999"/>
<text x="192.90" y="356.17" font-family="'Liberation Sans', sans-serif" font-size="7.5" font-weight="normal" font-style="normal" fill="#707070" text-anchor="start" textLength="19.8" lengthAdjust="spacingAndGlyphs" >0.9800</text>
<text x="173.00" y="225.00" font-family="'Liberation Sans', sans-serif" font-size="9.5" font-weight="bold" font-style="normal" fill="#000" text-anchor="start" textLength="33.3" lengthAdjust="spacingAndGlyphs" >Fidelity</text>
<clipPath id="cc1"><rect x="279.80" y="230.8" width="122.90" height="122.90"/></clipPath>
<g clip-path="url(#cc1)">
<rect x="279.80" y="230.8" width="122.90" height="122.90" fill="#22528a"/>
<ellipse cx="328.60" cy="302.50" rx="65.30" ry="27.80" transform="rotate(159.500 328.60 302.50)" fill="#fee0a2" stroke="#3a3a3a" stroke-width="0.9" stroke-dasharray="3.0 2.0"/>
<ellipse cx="328.60" cy="302.50" rx="41.20" ry="18.00" transform="rotate(160.200 328.60 302.50)" fill="#feebb7" stroke="#3a3a3a" stroke-width="0.9" stroke-dasharray="3.0 2.0"/>
<ellipse cx="328.60" cy="302.50" rx="21.60" ry="9.30" transform="rotate(160.400 328.60 302.50)" fill="#fef1c6" stroke="#3a3a3a" stroke-width="0.9" stroke-dasharray="3.0 2.0"/>
<ellipse cx="328.7" cy="303.0" rx="2.4" ry="0.9" transform="rotate(-20 328.7 303)" fill="#fffdf5"/>
</g>
<rect x="277.30" y="228.3" width="127.90" height="128.10" fill="none" stroke="#222" stroke-width="0.9"/>
<path d="M279.80,356.4v-2.6M279.80,228.3v2.6M284.92,356.4v-1.5M284.92,228.3v1.5M290.04,356.4v-1.5M290.04,228.3v1.5M295.16,356.4v-1.5M295.16,228.3v1.5M300.28,356.4v-2.6M300.28,228.3v2.6M305.40,356.4v-1.5M305.40,228.3v1.5M310.53,356.4v-1.5M310.53,228.3v1.5M315.65,356.4v-1.5M315.65,228.3v1.5M320.77,356.4v-2.6M320.77,228.3v2.6M325.89,356.4v-1.5M325.89,228.3v1.5M331.01,356.4v-1.5M331.01,228.3v1.5M336.13,356.4v-1.5M336.13,228.3v1.5M341.25,356.4v-2.6M341.25,228.3v2.6M346.37,356.4v-1.5M346.37,228.3v1.5M351.49,356.4v-1.5M351.49,228.3v1.5M356.61,356.4v-1.5M356.61,228.3v1.5M361.73,356.4v-2.6M361.73,228.3v2.6M366.85,356.4v-1.5M366.85,228.3v1.5M371.98,356.4v-1.5M371.98,228.3v1.5M377.10,356.4v-1.5M377.10,228.3v1.5M382.22,356.4v-2.6M382.22,228.3v2.6M387.34,356.4v-1.5M387.34,228.3v1.5M392.46,356.4v-1.5M392.46,228.3v1.5M397.58,356.4v-1.5M397.58,228.3v1.5M402.70,356.4v-2.6M402.70,228.3v2.6M277.30,353.70h2.6M405.20,353.70h-2.6M277.30,347.56h1.4M405.20,347.56h-1.4M277.30,341.41h1.4M405.20,341.41h-1.4M277.30,335.26h1.4M405.20,335.26h-1.4M277.30,329.12h1.4M405.20,329.12h-1.4M277.30,322.98h2.6M405.20,322.98h-2.6M277.30,316.83h1.4M405.20,316.83h-1.4M277.30,310.69h1.4M405.20,310.69h-1.4M277.30,304.54h1.4M405.20,304.54h-1.4M277.30,298.39h1.4M405.20,298.39h-1.4M277.30,292.25h2.6M405.20,292.25h-2.6M277.30,286.11h1.4M405.20,286.11h-1.4M277.30,279.96h1.4M405.20,279.96h-1.4M277.30,273.81h1.4M405.20,273.81h-1.4M277.30,267.67h1.4M405.20,267.67h-1.4M277.30,261.52h2.6M405.20,261.52h-2.6M277.30,255.38h1.4M405.20,255.38h-1.4M277.30,249.24h1.4M405.20,249.24h-1.4M277.30,243.09h1.4M405.20,243.09h-1.4M277.30,236.95h1.4M405.20,236.95h-1.4M277.30,230.80h2.6M405.20,230.80h-2.6" stroke="#222" stroke-width="0.7" fill="none"/>
<text x="275.50" y="234.10" font-family="'Liberation Sans', sans-serif" font-size="9.2" font-weight="bold" font-style="normal" fill="#000" text-anchor="end" >1.0</text>
<text x="275.50" y="264.82" font-family="'Liberation Sans', sans-serif" font-size="9.2" font-weight="bold" font-style="normal" fill="#000" text-anchor="end" >0.5</text>
<text x="275.50" y="295.55" font-family="'Liberation Sans', sans-serif" font-size="9.2" font-weight="bold" font-style="normal" fill="#000" text-anchor="end" >0.0</text>
<text x="275.50" y="326.28" font-family="'Liberation Sans', sans-serif" font-size="9.2" font-weight="bold" font-style="normal" fill="#000" text-anchor="end" >0.5</text>
<rect x="258.00" y="322.78" width="3.6" height="1.2" fill="#000"/>
<text x="275.50" y="357.00" font-family="'Liberation Sans', sans-serif" font-size="9.2" font-weight="bold" font-style="normal" fill="#000" text-anchor="end" >1.0</text>
<rect x="258.00" y="353.50" width="3.6" height="1.2" fill="#000"/>
<text x="282.60" y="366.80" font-family="'Liberation Sans', sans-serif" font-size="9.4" font-weight="bold" font-style="normal" fill="#000" text-anchor="middle" >6</text>
<rect x="274.50" y="363.20" width="3.4" height="1.2" fill="#000"/>
<text x="303.08" y="366.80" font-family="'Liberation Sans', sans-serif" font-size="9.4" font-weight="bold" font-style="normal" fill="#000" text-anchor="middle" >4</text>
<rect x="294.98" y="363.20" width="3.4" height="1.2" fill="#000"/>
<text x="323.57" y="366.80" font-family="'Liberation Sans', sans-serif" font-size="9.4" font-weight="bold" font-style="normal" fill="#000" text-anchor="middle" >2</text>
<rect x="315.47" y="363.20" width="3.4" height="1.2" fill="#000"/>
<text x="341.25" y="366.80" font-family="'Liberation Sans', sans-serif" font-size="9.4" font-weight="bold" font-style="normal" fill="#000" text-anchor="middle" >0</text>
<text x="361.73" y="366.80" font-family="'Liberation Sans', sans-serif" font-size="9.4" font-weight="bold" font-style="normal" fill="#000" text-anchor="middle" >2</text>
<text x="382.22" y="366.80" font-family="'Liberation Sans', sans-serif" font-size="9.4" font-weight="bold" font-style="normal" fill="#000" text-anchor="middle" >4</text>
<text x="402.70" y="366.80" font-family="'Liberation Sans', sans-serif" font-size="9.4" font-weight="bold" font-style="normal" fill="#000" text-anchor="middle" >6</text>
<text x="285.00" y="382.00" font-family="'Liberation Sans', sans-serif" font-size="9.3" font-weight="bold" font-style="normal" fill="#000" text-anchor="start" textLength="88.0" lengthAdjust="spacingAndGlyphs" >Frequency Detuning</text>
<text x="374.80" y="382.30" font-family="'Liberation Sans', sans-serif" font-size="12.0" font-weight="normal" font-style="normal" fill="#444" text-anchor="start" textLength="3.4" lengthAdjust="spacingAndGlyphs" >(</text>
<text x="378.40" y="382.00" font-family="'Liberation Sans', sans-serif" font-size="9.3" font-weight="bold" font-style="normal" fill="#000" text-anchor="start" textLength="18.6" lengthAdjust="spacingAndGlyphs" >MHz</text>
<text x="397.40" y="382.30" font-family="'Liberation Sans', sans-serif" font-size="12.0" font-weight="normal" font-style="normal" fill="#444" text-anchor="start" textLength="3.4" lengthAdjust="spacingAndGlyphs" >)</text>
<text x="250.00" y="345.40" font-family="'Liberation Sans', sans-serif" font-size="9.4" font-weight="bold" font-style="normal" fill="#000" text-anchor="start" textLength="109.4" lengthAdjust="spacingAndGlyphs" transform="rotate(-90 250.00 345.40)">Pulse Amplitude Error %</text>
<text x="341.60" y="223.80" font-family="'Liberation Sans', sans-serif" font-size="7.7" font-weight="normal" font-style="normal" fill="#606060" text-anchor="middle" >X gate</text>
<rect x="415.00" y="227.40" width="8.9" height="36.85" fill="#fef1c5"/>
<rect x="415.00" y="264.20" width="8.9" height="36.85" fill="#feebb7"/>
<rect x="415.00" y="301.00" width="8.9" height="36.85" fill="#fee0a2"/>
<rect x="415.00" y="337.80" width="8.9" height="36.85" fill="#22528a"/>
<rect x="415.00" y="263.75" width="8.9" height="0.9" fill="#7a6a40"/>
<rect x="423.90" y="263.85" width="2.5" height="0.7" fill="#999"/>
<text x="428.90" y="266.90" font-family="'Liberation Sans', sans-serif" font-size="7.5" font-weight="normal" font-style="normal" fill="#707070" text-anchor="start" textLength="16.4" lengthAdjust="spacingAndGlyphs" >0.995</text>
<rect x="415.00" y="300.55" width="8.9" height="0.9" fill="#7a6a40"/>
<rect x="423.90" y="300.65" width="2.5" height="0.7" fill="#999"/>
<text x="428.90" y="303.70" font-family="'Liberation Sans', sans-serif" font-size="7.5" font-weight="normal" font-style="normal" fill="#707070" text-anchor="start" textLength="16.4" lengthAdjust="spacingAndGlyphs" >0.990</text>
<rect x="415.00" y="337.35" width="8.9" height="0.9" fill="#7a6a40"/>
<rect x="423.90" y="337.45" width="2.5" height="0.7" fill="#999"/>
<text x="428.90" y="340.50" font-family="'Liberation Sans', sans-serif" font-size="7.5" font-weight="normal" font-style="normal" fill="#707070" text-anchor="start" textLength="16.4" lengthAdjust="spacingAndGlyphs" >0.980</text>
<text x="407.00" y="225.00" font-family="'Liberation Sans', sans-serif" font-size="9.5" font-weight="bold" font-style="normal" fill="#000" text-anchor="start" textLength="33.3" lengthAdjust="spacingAndGlyphs" >Fidelity</text>
<clipPath id="cc2"><rect x="512.90" y="230.8" width="122.90" height="122.90"/></clipPath>
<g clip-path="url(#cc2)">
<rect x="512.90" y="230.8" width="122.90" height="122.90" fill="#22528a"/>
<path d="M556.80,225.00 L556.70,231.00 L556.30,270.00 L555.50,312.00 L553.20,353.60 L552.90,360.00 L616.20,360.00 L616.20,353.60 L616.50,270.00 L616.50,225.00Z" fill="#feda94"/>
<path d="M570.80,225.00 L570.50,231.00 L568.00,270.00 L566.60,312.00 L564.90,353.60 L564.70,360.00 L603.30,360.00 L603.40,353.60 L604.60,312.00 L605.40,270.00 L604.50,250.00 L603.40,231.00 L603.20,225.00Z" fill="#feeab5"/>
<path d="M576.20,360.00 L576.30,353.60 L577.10,312.00 L578.50,270.00 L581.80,250.00 L583.50,246.00 C583.8,243.0 585.5,241.1 587.6,241.1 C589.7,241.1 591.2,243.0 591.7,246.0 L592.30,250.00 L594.60,270.00 L594.60,312.00 L591.50,353.60 L591.30,360.00Z" fill="#fef1c5" stroke="#3a3a3a" stroke-width="0.9" stroke-dasharray="3 2"/>
<path d="M556.80,225.00 L556.70,231.00 L556.30,270.00 L555.50,312.00 L553.20,353.60 L552.90,360.00" fill="none" stroke="#3a3a3a" stroke-width="0.9" stroke-dasharray="3 2"/>
<path d="M570.80,225.00 L570.50,231.00 L568.00,270.00 L566.60,312.00 L564.90,353.60 L564.70,360.00" fill="none" stroke="#3a3a3a" stroke-width="0.9" stroke-dasharray="3 2"/>
<path d="M603.20,225.00 L603.40,231.00 L604.50,250.00 L605.40,270.00 L604.60,312.00 L603.40,353.60 L603.30,360.00" fill="none" stroke="#3a3a3a" stroke-width="0.9" stroke-dasharray="3 2"/>
<path d="M616.50,225.00 L616.50,270.00 L616.20,353.60 L616.20,360.00" fill="none" stroke="#3a3a3a" stroke-width="0.9" stroke-dasharray="3 2"/>
<rect x="585.5" y="292.8" width="1.3" height="7.6" fill="#fffdf5"/>
</g>
<rect x="510.40" y="228.3" width="127.90" height="128.10" fill="none" stroke="#222" stroke-width="0.9"/>
<path d="M512.90,356.4v-2.6M512.90,228.3v2.6M518.02,356.4v-1.5M518.02,228.3v1.5M523.14,356.4v-1.5M523.14,228.3v1.5M528.26,356.4v-1.5M528.26,228.3v1.5M533.38,356.4v-2.6M533.38,228.3v2.6M538.50,356.4v-1.5M538.50,228.3v1.5M543.62,356.4v-1.5M543.62,228.3v1.5M548.75,356.4v-1.5M548.75,228.3v1.5M553.87,356.4v-2.6M553.87,228.3v2.6M558.99,356.4v-1.5M558.99,228.3v1.5M564.11,356.4v-1.5M564.11,228.3v1.5M569.23,356.4v-1.5M569.23,228.3v1.5M574.35,356.4v-2.6M574.35,228.3v2.6M579.47,356.4v-1.5M579.47,228.3v1.5M584.59,356.4v-1.5M584.59,228.3v1.5M589.71,356.4v-1.5M589.71,228.3v1.5M594.83,356.4v-2.6M594.83,228.3v2.6M599.95,356.4v-1.5M599.95,228.3v1.5M605.08,356.4v-1.5M605.08,228.3v1.5M610.20,356.4v-1.5M610.20,228.3v1.5M615.32,356.4v-2.6M615.32,228.3v2.6M620.44,356.4v-1.5M620.44,228.3v1.5M625.56,356.4v-1.5M625.56,228.3v1.5M630.68,356.4v-1.5M630.68,228.3v1.5M635.80,356.4v-2.6M635.80,228.3v2.6M510.40,353.70h2.6M638.30,353.70h-2.6M510.40,347.56h1.4M638.30,347.56h-1.4M510.40,341.41h1.4M638.30,341.41h-1.4M510.40,335.26h1.4M638.30,335.26h-1.4M510.40,329.12h1.4M638.30,329.12h-1.4M510.40,322.98h2.6M638.30,322.98h-2.6M510.40,316.83h1.4M638.30,316.83h-1.4M510.40,310.69h1.4M638.30,310.69h-1.4M510.40,304.54h1.4M638.30,304.54h-1.4M510.40,298.39h1.4M638.30,298.39h-1.4M510.40,292.25h2.6M638.30,292.25h-2.6M510.40,286.11h1.4M638.30,286.11h-1.4M510.40,279.96h1.4M638.30,279.96h-1.4M510.40,273.81h1.4M638.30,273.81h-1.4M510.40,267.67h1.4M638.30,267.67h-1.4M510.40,261.52h2.6M638.30,261.52h-2.6M510.40,255.38h1.4M638.30,255.38h-1.4M510.40,249.24h1.4M638.30,249.24h-1.4M510.40,243.09h1.4M638.30,243.09h-1.4M510.40,236.95h1.4M638.30,236.95h-1.4M510.40,230.80h2.6M638.30,230.80h-2.6" stroke="#222" stroke-width="0.7" fill="none"/>
<text x="508.60" y="234.10" font-family="'Liberation Sans', sans-serif" font-size="9.2" font-weight="bold" font-style="normal" fill="#000" text-anchor="end" >1.0</text>
<text x="508.60" y="264.82" font-family="'Liberation Sans', sans-serif" font-size="9.2" font-weight="bold" font-style="normal" fill="#000" text-anchor="end" >0.5</text>
<text x="508.60" y="295.55" font-family="'Liberation Sans', sans-serif" font-size="9.2" font-weight="bold" font-style="normal" fill="#000" text-anchor="end" >0.0</text>
<text x="508.60" y="326.28" font-family="'Liberation Sans', sans-serif" font-size="9.2" font-weight="bold" font-style="normal" fill="#000" text-anchor="end" >0.5</text>
<rect x="491.10" y="322.78" width="3.6" height="1.2" fill="#000"/>
<text x="508.60" y="357.00" font-family="'Liberation Sans', sans-serif" font-size="9.2" font-weight="bold" font-style="normal" fill="#000" text-anchor="end" >1.0</text>
<rect x="491.10" y="353.50" width="3.6" height="1.2" fill="#000"/>
<text x="515.70" y="366.80" font-family="'Liberation Sans', sans-serif" font-size="9.4" font-weight="bold" font-style="normal" fill="#000" text-anchor="middle" >6</text>
<rect x="507.60" y="363.20" width="3.4" height="1.2" fill="#000"/>
<text x="536.18" y="366.80" font-family="'Liberation Sans', sans-serif" font-size="9.4" font-weight="bold" font-style="normal" fill="#000" text-anchor="middle" >4</text>
<rect x="528.08" y="363.20" width="3.4" height="1.2" fill="#000"/>
<text x="556.67" y="366.80" font-family="'Liberation Sans', sans-serif" font-size="9.4" font-weight="bold" font-style="normal" fill="#000" text-anchor="middle" >2</text>
<rect x="548.57" y="363.20" width="3.4" height="1.2" fill="#000"/>
<text x="574.35" y="366.80" font-family="'Liberation Sans', sans-serif" font-size="9.4" font-weight="bold" font-style="normal" fill="#000" text-anchor="middle" >0</text>
<text x="594.83" y="366.80" font-family="'Liberation Sans', sans-serif" font-size="9.4" font-weight="bold" font-style="normal" fill="#000" text-anchor="middle" >2</text>
<text x="615.32" y="366.80" font-family="'Liberation Sans', sans-serif" font-size="9.4" font-weight="bold" font-style="normal" fill="#000" text-anchor="middle" >4</text>
<text x="635.80" y="366.80" font-family="'Liberation Sans', sans-serif" font-size="9.4" font-weight="bold" font-style="normal" fill="#000" text-anchor="middle" >6</text>
<text x="518.10" y="382.00" font-family="'Liberation Sans', sans-serif" font-size="9.3" font-weight="bold" font-style="normal" fill="#000" text-anchor="start" textLength="88.0" lengthAdjust="spacingAndGlyphs" >Frequency Detuning</text>
<text x="607.90" y="382.30" font-family="'Liberation Sans', sans-serif" font-size="12.0" font-weight="normal" font-style="normal" fill="#444" text-anchor="start" textLength="3.4" lengthAdjust="spacingAndGlyphs" >(</text>
<text x="611.50" y="382.00" font-family="'Liberation Sans', sans-serif" font-size="9.3" font-weight="bold" font-style="normal" fill="#000" text-anchor="start" textLength="18.6" lengthAdjust="spacingAndGlyphs" >MHz</text>
<text x="630.50" y="382.30" font-family="'Liberation Sans', sans-serif" font-size="12.0" font-weight="normal" font-style="normal" fill="#444" text-anchor="start" textLength="3.4" lengthAdjust="spacingAndGlyphs" >)</text>
<text x="483.10" y="345.40" font-family="'Liberation Sans', sans-serif" font-size="9.4" font-weight="bold" font-style="normal" fill="#000" text-anchor="start" textLength="109.4" lengthAdjust="spacingAndGlyphs" transform="rotate(-90 483.10 345.40)">Pulse Amplitude Error %</text>
<text x="574.80" y="223.80" font-family="'Liberation Sans', sans-serif" font-size="7.7" font-weight="normal" font-style="normal" fill="#606060" text-anchor="middle" >X gate (Knill CP)</text>
<rect x="648.10" y="228.30" width="8.9" height="36.62" fill="#fef1c5"/>
<rect x="648.10" y="264.88" width="8.9" height="36.62" fill="#feebb7"/>
<rect x="648.10" y="301.45" width="8.9" height="36.62" fill="#fee0a2"/>
<rect x="648.10" y="338.03" width="8.9" height="36.62" fill="#22528a"/>
<rect x="648.10" y="264.43" width="8.9" height="0.9" fill="#7a6a40"/>
<rect x="657.00" y="264.52" width="2.5" height="0.7" fill="#999"/>
<text x="662.00" y="267.57" font-family="'Liberation Sans', sans-serif" font-size="7.5" font-weight="normal" font-style="normal" fill="#707070" text-anchor="start" textLength="16.4" lengthAdjust="spacingAndGlyphs" >0.995</text>
<rect x="648.10" y="301.00" width="8.9" height="0.9" fill="#7a6a40"/>
<rect x="657.00" y="301.10" width="2.5" height="0.7" fill="#999"/>
<text x="662.00" y="304.15" font-family="'Liberation Sans', sans-serif" font-size="7.5" font-weight="normal" font-style="normal" fill="#707070" text-anchor="start" textLength="16.4" lengthAdjust="spacingAndGlyphs" >0.990</text>
<rect x="648.10" y="337.58" width="8.9" height="0.9" fill="#7a6a40"/>
<rect x="657.00" y="337.68" width="2.5" height="0.7" fill="#999"/>
<text x="662.00" y="340.73" font-family="'Liberation Sans', sans-serif" font-size="7.5" font-weight="normal" font-style="normal" fill="#707070" text-anchor="start" textLength="16.4" lengthAdjust="spacingAndGlyphs" >0.980</text>
<text x="640.60" y="225.00" font-family="'Liberation Sans', sans-serif" font-size="9.5" font-weight="bold" font-style="normal" fill="#000" text-anchor="start" textLength="33.3" lengthAdjust="spacingAndGlyphs" >Fidelity</text>
</svg>
</body></html>
